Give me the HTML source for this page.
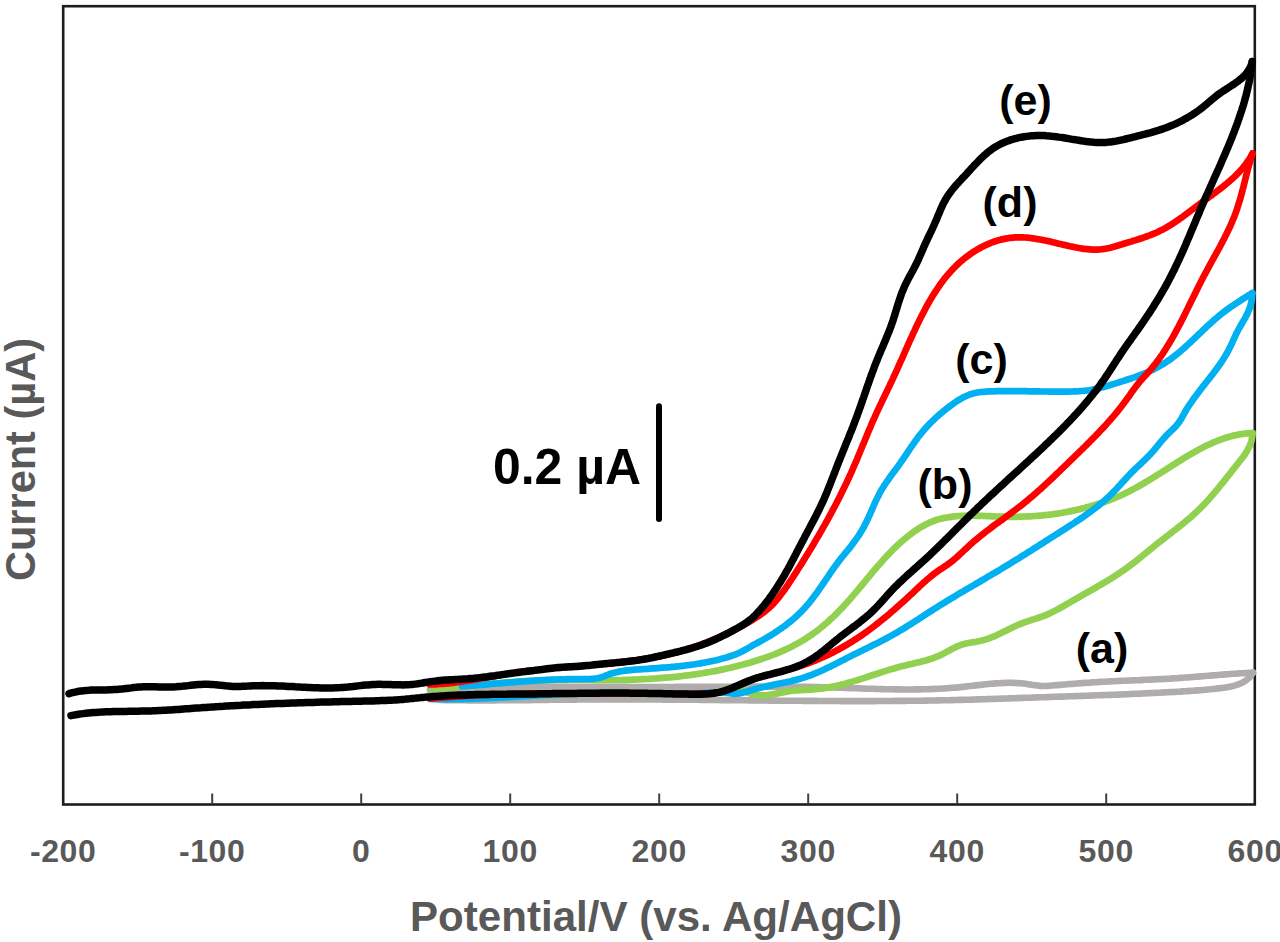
<!DOCTYPE html>
<html><head><meta charset="utf-8"><style>
html,body{margin:0;padding:0;background:#fff;}
body{width:1280px;height:942px;overflow:hidden;}
svg{display:block;}
text{font-family:"Liberation Sans",sans-serif;font-weight:bold;}
</style></head><body>
<svg width="1280" height="942" viewBox="0 0 1280 942">
<rect x="0" y="0" width="1280" height="942" fill="#fff"/>
<rect x="63.2" y="6.2" width="1191.6" height="798.3" fill="none" stroke="#1c1c1c" stroke-width="2.6"/>
<g>
<path d="M430.0,690.0 L432.5,689.9 L435.0,689.8 L437.5,689.7 L440.0,689.6 L442.6,689.6 L445.1,689.5 L447.6,689.4 L450.1,689.3 L452.6,689.2 L455.1,689.1 L457.6,689.0 L460.1,688.9 L462.7,688.8 L465.2,688.7 L467.7,688.6 L470.2,688.5 L472.7,688.4 L475.2,688.3 L477.7,688.2 L480.2,688.1 L482.8,688.0 L485.3,687.9 L487.8,687.9 L490.3,687.8 L492.8,687.7 L495.3,687.6 L497.8,687.5 L500.3,687.5 L502.9,687.4 L505.4,687.3 L507.9,687.3 L510.4,687.2 L512.9,687.1 L515.4,687.1 L517.9,687.0 L520.4,687.0 L523.0,687.0 L525.5,686.9 L528.0,686.9 L530.5,686.9 L533.0,686.8 L535.5,686.8 L538.0,686.8 L540.6,686.8 L543.1,686.8 L545.6,686.8 L548.1,686.7 L550.6,686.7 L553.1,686.7 L555.6,686.7 L558.1,686.7 L560.7,686.7 L563.2,686.7 L565.7,686.8 L568.2,686.8 L570.7,686.8 L573.2,686.8 L575.7,686.8 L578.3,686.8 L580.8,686.8 L583.3,686.8 L585.8,686.8 L588.3,686.8 L590.8,686.8 L593.3,686.8 L595.9,686.9 L598.4,686.9 L600.9,686.9 L603.4,686.9 L605.9,686.9 L608.4,686.9 L610.9,686.9 L613.5,686.9 L616.0,686.9 L618.5,686.9 L621.0,686.9 L623.5,686.9 L626.0,686.9 L628.5,687.0 L631.0,687.0 L633.6,687.0 L636.1,687.0 L638.6,687.0 L641.1,687.0 L643.6,687.0 L646.1,687.0 L648.6,687.0 L651.2,687.0 L653.7,687.0 L656.2,687.0 L658.7,687.0 L661.2,687.0 L663.7,687.0 L666.2,687.0 L668.8,687.0 L671.3,687.0 L673.8,687.0 L676.3,686.9 L678.8,686.9 L681.3,686.9 L683.8,686.9 L686.3,686.9 L688.9,686.9 L691.4,686.9 L693.9,686.9 L696.4,686.9 L698.9,686.9 L701.4,686.8 L703.9,686.8 L706.5,686.8 L709.0,686.8 L711.5,686.8 L714.0,686.8 L716.5,686.7 L719.0,686.7 L721.5,686.7 L724.0,686.7 L726.6,686.7 L729.1,686.7 L731.6,686.7 L734.1,686.6 L736.6,686.6 L739.1,686.6 L741.6,686.6 L744.2,686.6 L746.7,686.6 L749.2,686.6 L751.7,686.6 L754.2,686.6 L756.7,686.6 L759.2,686.6 L761.8,686.6 L764.3,686.6 L766.8,686.6 L769.3,686.6 L771.8,686.6 L774.3,686.6 L776.8,686.6 L779.4,686.6 L781.9,686.6 L784.4,686.6 L786.9,686.6 L789.4,686.7 L791.9,686.7 L794.4,686.7 L797.0,686.7 L799.5,686.8 L802.0,686.8 L804.5,686.8 L807.0,686.9 L809.5,686.9 L812.0,687.0 L814.6,687.0 L817.1,687.1 L819.6,687.1 L822.1,687.2 L824.6,687.3 L827.1,687.3 L829.6,687.4 L832.1,687.5 L834.6,687.5 L837.2,687.6 L839.7,687.7 L842.2,687.8 L844.7,687.9 L847.2,688.0 L849.7,688.1 L852.2,688.1 L854.7,688.2 L857.2,688.3 L859.7,688.4 L862.2,688.5 L864.7,688.6 L867.2,688.7 L869.8,688.7 L872.3,688.8 L874.8,688.9 L877.3,689.0 L879.8,689.0 L882.3,689.1 L884.8,689.2 L887.3,689.2 L889.8,689.3 L892.3,689.3 L894.8,689.4 L897.3,689.4 L899.9,689.4 L902.4,689.5 L904.9,689.5 L907.4,689.5 L909.9,689.5 L912.4,689.5 L914.9,689.4 L917.4,689.4 L920.0,689.4 L922.5,689.3 L925.0,689.3 L927.5,689.2 L930.0,689.1 L932.6,689.0 L935.1,688.9 L937.6,688.8 L940.1,688.7 L942.6,688.5 L945.2,688.4 L947.7,688.2 L950.2,688.0 L952.7,687.8 L955.3,687.6 L957.8,687.4 L960.3,687.1 L962.9,686.9 L965.4,686.6 L967.9,686.3 L970.5,686.0 L973.0,685.7 L975.5,685.4 L978.1,685.1 L980.6,684.9 L983.1,684.6 L985.7,684.3 L988.2,684.0 L990.7,683.8 L993.2,683.6 L995.8,683.4 L998.3,683.2 L1000.8,683.1 L1003.3,683.0 L1005.8,682.9 L1008.3,682.8 L1010.8,682.8 L1013.3,682.9 L1015.7,683.0 L1018.2,683.1 L1020.7,683.3 L1023.1,683.5 L1025.6,683.8 L1028.0,684.2 L1030.4,684.6 L1032.9,685.0 L1035.3,685.3 L1037.7,685.6 L1040.2,685.9 L1042.6,686.0 L1045.0,686.0 L1047.4,685.9 L1049.9,685.7 L1052.3,685.5 L1054.8,685.3 L1057.2,685.1 L1059.7,684.9 L1062.2,684.7 L1064.7,684.5 L1067.2,684.3 L1069.7,684.0 L1072.2,683.9 L1074.7,683.7 L1077.2,683.5 L1079.7,683.3 L1082.2,683.1 L1084.8,682.9 L1087.3,682.7 L1089.8,682.6 L1092.4,682.4 L1094.9,682.2 L1097.4,682.1 L1100.0,681.9 L1102.5,681.8 L1105.0,681.7 L1107.5,681.5 L1110.1,681.4 L1112.6,681.3 L1115.1,681.2 L1117.6,681.0 L1120.1,680.9 L1122.6,680.8 L1125.2,680.7 L1127.7,680.6 L1130.2,680.5 L1132.7,680.4 L1135.2,680.3 L1137.7,680.2 L1140.2,680.1 L1142.7,679.9 L1145.2,679.8 L1147.7,679.7 L1150.2,679.6 L1152.7,679.5 L1155.2,679.4 L1157.7,679.3 L1160.2,679.1 L1162.8,679.0 L1165.3,678.9 L1167.8,678.7 L1170.3,678.6 L1172.8,678.4 L1175.3,678.2 L1177.8,678.1 L1180.3,677.9 L1182.8,677.7 L1185.3,677.5 L1187.8,677.4 L1190.3,677.2 L1192.8,677.0 L1195.3,676.8 L1197.8,676.6 L1200.3,676.4 L1202.8,676.2 L1205.3,676.0 L1207.9,675.8 L1210.4,675.6 L1212.9,675.4 L1215.4,675.2 L1217.9,675.0 L1220.4,674.8 L1222.9,674.6 L1225.4,674.4 L1227.9,674.2 L1230.4,674.0 L1232.9,673.8 L1235.4,673.7 L1238.0,673.5 L1240.5,673.3 L1243.0,673.2 L1245.5,673.0 L1248.0,672.9 L1250.5,672.7 L1253.0,672.6" stroke="#B0ACAC" stroke-width="6.6" fill="none" stroke-linecap="round" stroke-linejoin="round"/>
<path d="M1253.0,672.6 L1251.6,674.7 L1250.1,676.7 L1248.5,678.4 L1246.6,679.9 L1244.7,681.3 L1242.6,682.5 L1240.4,683.5 L1238.2,684.4 L1235.8,685.2 L1233.4,685.9 L1230.9,686.5 L1228.4,687.0 L1225.8,687.4 L1223.2,687.8 L1220.6,688.1 L1218.0,688.4 L1215.4,688.7 L1212.9,689.0 L1210.3,689.3 L1207.7,689.5 L1205.2,689.8 L1202.7,690.0 L1200.1,690.2 L1197.6,690.4 L1195.1,690.6 L1192.6,690.8 L1190.1,690.9 L1187.6,691.1 L1185.1,691.3 L1182.6,691.4 L1180.1,691.6 L1177.6,691.7 L1175.1,691.9 L1172.6,692.0 L1170.1,692.1 L1167.6,692.3 L1165.2,692.4 L1162.7,692.5 L1160.2,692.7 L1157.7,692.8 L1155.2,692.9 L1152.7,693.0 L1150.2,693.1 L1147.7,693.3 L1145.2,693.4 L1142.7,693.5 L1140.2,693.6 L1137.7,693.7 L1135.2,693.8 L1132.7,693.9 L1130.2,694.0 L1127.7,694.2 L1125.2,694.3 L1122.7,694.4 L1120.2,694.5 L1117.7,694.6 L1115.2,694.7 L1112.6,694.8 L1110.1,694.9 L1107.6,695.0 L1105.1,695.0 L1102.6,695.1 L1100.1,695.2 L1097.6,695.3 L1095.1,695.4 L1092.6,695.5 L1090.1,695.6 L1087.6,695.7 L1085.0,695.8 L1082.5,695.9 L1080.0,696.0 L1077.5,696.0 L1075.0,696.1 L1072.5,696.2 L1070.0,696.3 L1067.5,696.4 L1064.9,696.5 L1062.4,696.6 L1059.9,696.6 L1057.4,696.7 L1054.9,696.8 L1052.4,696.9 L1049.9,697.0 L1047.4,697.1 L1044.8,697.2 L1042.3,697.2 L1039.8,697.3 L1037.3,697.4 L1034.8,697.5 L1032.3,697.6 L1029.8,697.7 L1027.3,697.8 L1024.8,697.8 L1022.3,697.9 L1019.7,698.0 L1017.2,698.1 L1014.7,698.2 L1012.2,698.3 L1009.7,698.4 L1007.2,698.5 L1004.7,698.5 L1002.2,698.6 L999.7,698.7 L997.2,698.8 L994.7,698.9 L992.2,699.0 L989.6,699.0 L987.1,699.1 L984.6,699.2 L982.1,699.3 L979.6,699.4 L977.1,699.4 L974.6,699.5 L972.1,699.6 L969.6,699.7 L967.1,699.7 L964.6,699.8 L962.1,699.9 L959.6,699.9 L957.1,700.0 L954.5,700.0 L952.0,700.1 L949.5,700.2 L947.0,700.2 L944.5,700.3 L942.0,700.3 L939.5,700.4 L937.0,700.4 L934.5,700.5 L932.0,700.5 L929.5,700.5 L927.0,700.6 L924.5,700.6 L921.9,700.7 L919.4,700.7 L916.9,700.7 L914.4,700.8 L911.9,700.8 L909.4,700.8 L906.9,700.8 L904.4,700.9 L901.9,700.9 L899.4,700.9 L896.9,700.9 L894.3,700.9 L891.8,701.0 L889.3,701.0 L886.8,701.0 L884.3,701.0 L881.8,701.0 L879.3,701.0 L876.8,701.0 L874.3,701.1 L871.8,701.1 L869.3,701.1 L866.7,701.1 L864.2,701.1 L861.7,701.1 L859.2,701.1 L856.7,701.1 L854.2,701.1 L851.7,701.1 L849.2,701.1 L846.7,701.1 L844.2,701.1 L841.6,701.1 L839.1,701.0 L836.6,701.0 L834.1,701.0 L831.6,701.0 L829.1,701.0 L826.6,701.0 L824.1,701.0 L821.6,701.0 L819.0,701.0 L816.5,700.9 L814.0,700.9 L811.5,700.9 L809.0,700.9 L806.5,700.9 L804.0,700.9 L801.5,700.8 L799.0,700.8 L796.5,700.8 L793.9,700.8 L791.4,700.8 L788.9,700.7 L786.4,700.7 L783.9,700.7 L781.4,700.7 L778.9,700.7 L776.4,700.6 L773.9,700.6 L771.3,700.6 L768.8,700.6 L766.3,700.5 L763.8,700.5 L761.3,700.5 L758.8,700.5 L756.3,700.4 L753.8,700.4 L751.3,700.4 L748.7,700.4 L746.2,700.3 L743.7,700.3 L741.2,700.3 L738.7,700.3 L736.2,700.2 L733.7,700.2 L731.2,700.2 L728.7,700.1 L726.1,700.1 L723.6,700.1 L721.1,700.1 L718.6,700.0 L716.1,700.0 L713.6,700.0 L711.1,700.0 L708.6,699.9 L706.1,699.9 L703.5,699.9 L701.0,699.9 L698.5,699.8 L696.0,699.8 L693.5,699.8 L691.0,699.8 L688.5,699.8 L686.0,699.7 L683.5,699.7 L681.0,699.7 L678.4,699.7 L675.9,699.7 L673.4,699.6 L670.9,699.6 L668.4,699.6 L665.9,699.6 L663.4,699.6 L660.9,699.5 L658.4,699.5 L655.8,699.5 L653.3,699.5 L650.8,699.5 L648.3,699.5 L645.8,699.5 L643.3,699.5 L640.8,699.4 L638.3,699.4 L635.8,699.4 L633.3,699.4 L630.7,699.4 L628.2,699.4 L625.7,699.4 L623.2,699.4 L620.7,699.4 L618.2,699.4 L615.7,699.4 L613.2,699.4 L610.7,699.4 L608.2,699.4 L605.6,699.4 L603.1,699.4 L600.6,699.4 L598.1,699.4 L595.6,699.4 L593.1,699.5 L590.6,699.5 L588.1,699.5 L585.6,699.5 L583.1,699.5 L580.5,699.5 L578.0,699.5 L575.5,699.6 L573.0,699.6 L570.5,699.6 L568.0,699.6 L565.5,699.7 L563.0,699.7 L560.5,699.7 L558.0,699.7 L555.5,699.8 L552.9,699.8 L550.4,699.8 L547.9,699.9 L545.4,699.9 L542.9,699.9 L540.4,699.9 L537.9,700.0 L535.4,700.0 L532.9,700.0 L530.4,700.1 L527.9,700.1 L525.3,700.1 L522.8,700.1 L520.3,700.2 L517.8,700.2 L515.3,700.2 L512.8,700.2 L510.3,700.3 L507.8,700.3 L505.3,700.3 L502.8,700.3 L500.3,700.3 L497.7,700.3 L495.2,700.4 L492.7,700.4 L490.2,700.4 L487.7,700.4 L485.2,700.4 L482.7,700.4 L480.2,700.4 L477.7,700.4 L475.2,700.4 L472.6,700.4 L470.1,700.4 L467.6,700.4 L465.1,700.3 L462.6,700.3 L460.1,700.3 L457.6,700.3 L455.1,700.2 L452.6,700.2 L450.0,700.2 L447.5,700.1 L445.0,700.1 L442.5,700.0 L440.0,700.0" stroke="#B0ACAC" stroke-width="6.6" fill="none" stroke-linecap="round" stroke-linejoin="round"/>
<path d="M432.0,689.0 L434.5,688.8 L437.0,688.6 L439.5,688.4 L442.0,688.3 L444.5,688.0 L447.0,687.8 L449.5,687.6 L452.0,687.4 L454.5,687.2 L457.0,687.0 L459.5,686.7 L462.0,686.5 L464.5,686.3 L467.0,686.0 L469.5,685.8 L472.0,685.6 L474.5,685.3 L477.0,685.1 L479.5,684.9 L482.0,684.6 L484.5,684.4 L487.0,684.2 L489.5,683.9 L492.0,683.7 L494.5,683.5 L497.0,683.3 L499.6,683.1 L502.1,682.8 L504.6,682.6 L507.1,682.4 L509.6,682.2 L512.1,682.1 L514.6,681.9 L517.1,681.7 L519.6,681.5 L522.1,681.4 L524.6,681.2 L527.2,681.1 L529.7,680.9 L532.2,680.8 L534.7,680.7 L537.2,680.6 L539.7,680.5 L542.2,680.4 L544.7,680.3 L547.3,680.2 L549.8,680.1 L552.3,680.1 L554.8,680.0 L557.3,679.9 L559.8,679.9 L562.3,679.8 L564.8,679.8 L567.3,679.8 L569.8,679.7 L572.3,679.7 L574.9,679.7 L577.4,679.7 L579.9,679.7 L582.4,679.7 L584.9,679.7 L587.4,679.7 L589.9,679.7 L592.4,679.8 L594.9,679.8 L597.3,679.8 L599.8,679.9 L602.3,679.9 L604.8,679.9 L607.3,680.0 L609.8,680.0 L612.3,680.0 L614.8,680.0 L617.2,680.0 L619.7,680.0 L622.2,680.0 L624.7,679.9 L627.2,679.8 L629.7,679.8 L632.2,679.7 L634.7,679.6 L637.2,679.5 L639.7,679.3 L642.2,679.2 L644.7,679.1 L647.2,679.0 L649.7,678.8 L652.2,678.7 L654.7,678.5 L657.2,678.3 L659.8,678.1 L662.3,677.9 L664.8,677.7 L667.3,677.5 L669.8,677.3 L672.3,677.1 L674.8,676.8 L677.4,676.6 L679.9,676.3 L682.4,676.0 L684.9,675.7 L687.4,675.4 L689.8,675.1 L692.3,674.7 L694.8,674.4 L697.3,674.0 L699.8,673.6 L702.2,673.3 L704.7,672.8 L707.2,672.4 L709.6,672.0 L712.1,671.5 L714.6,671.1 L717.0,670.6 L719.5,670.1 L721.9,669.6 L724.4,669.1 L726.8,668.5 L729.3,668.0 L731.7,667.4 L734.2,666.8 L736.6,666.2 L739.0,665.6 L741.5,665.0 L743.9,664.3 L746.3,663.6 L748.8,663.0 L751.2,662.3 L753.6,661.5 L756.0,660.8 L758.4,660.0 L760.8,659.2 L763.2,658.4 L765.6,657.6 L768.0,656.8 L770.4,655.9 L772.7,655.0 L775.1,654.1 L777.4,653.1 L779.7,652.1 L782.0,651.1 L784.3,650.1 L786.6,649.1 L788.9,648.0 L791.1,646.9 L793.3,645.7 L795.5,644.6 L797.7,643.4 L799.9,642.1 L802.1,640.9 L804.2,639.6 L806.3,638.2 L808.4,636.9 L810.5,635.5 L812.5,634.0 L814.6,632.6 L816.6,631.1 L818.6,629.6 L820.5,628.0 L822.5,626.4 L824.4,624.8 L826.3,623.2 L828.2,621.5 L830.0,619.8 L831.9,618.1 L833.7,616.4 L835.5,614.6 L837.3,612.8 L839.0,611.0 L840.8,609.2 L842.5,607.4 L844.2,605.5 L845.9,603.7 L847.6,601.8 L849.3,599.9 L851.0,598.0 L852.6,596.1 L854.2,594.2 L855.9,592.3 L857.5,590.4 L859.1,588.4 L860.7,586.5 L862.4,584.5 L864.0,582.6 L865.6,580.7 L867.2,578.7 L868.8,576.8 L870.4,574.8 L872.0,572.9 L873.6,571.0 L875.3,569.1 L876.9,567.1 L878.6,565.2 L880.2,563.4 L881.9,561.5 L883.5,559.6 L885.2,557.8 L886.9,555.9 L888.7,554.1 L890.4,552.3 L892.1,550.5 L893.9,548.7 L895.7,547.0 L897.5,545.3 L899.3,543.6 L901.2,541.9 L903.1,540.3 L905.0,538.7 L906.9,537.1 L908.9,535.5 L910.9,534.0 L912.9,532.5 L914.9,531.0 L917.0,529.6 L919.1,528.2 L921.3,526.9 L923.5,525.7 L925.7,524.5 L927.9,523.4 L930.2,522.3 L932.5,521.4 L934.9,520.5 L937.2,519.7 L939.6,519.1 L942.1,518.4 L944.5,517.9 L947.0,517.5 L949.5,517.1 L952.0,516.7 L954.5,516.4 L957.0,516.2 L959.5,516.0 L962.0,515.9 L964.5,515.8 L967.0,515.7 L969.5,515.7 L972.1,515.7 L974.6,515.7 L977.1,515.8 L979.6,515.8 L982.2,515.9 L984.7,516.0 L987.2,516.1 L989.7,516.2 L992.3,516.3 L994.8,516.4 L997.3,516.5 L999.8,516.6 L1002.4,516.7 L1004.9,516.7 L1007.4,516.8 L1009.9,516.8 L1012.4,516.8 L1015.0,516.8 L1017.5,516.8 L1020.0,516.7 L1022.5,516.6 L1025.0,516.5 L1027.5,516.4 L1030.0,516.3 L1032.5,516.2 L1035.0,516.0 L1037.5,515.8 L1040.0,515.6 L1042.5,515.4 L1045.0,515.1 L1047.4,514.9 L1049.9,514.6 L1052.4,514.3 L1054.9,513.9 L1057.3,513.6 L1059.8,513.2 L1062.3,512.8 L1064.7,512.3 L1067.2,511.9 L1069.7,511.4 L1072.1,510.9 L1074.6,510.4 L1077.0,509.8 L1079.5,509.2 L1081.9,508.6 L1084.3,508.0 L1086.8,507.3 L1089.2,506.6 L1091.6,505.9 L1094.1,505.2 L1096.5,504.5 L1098.9,503.7 L1101.3,503.0 L1103.7,502.2 L1106.0,501.4 L1108.4,500.5 L1110.8,499.6 L1113.1,498.7 L1115.4,497.8 L1117.7,496.8 L1120.0,495.8 L1122.2,494.7 L1124.5,493.7 L1126.7,492.6 L1129.0,491.5 L1131.2,490.3 L1133.4,489.1 L1135.6,487.9 L1137.8,486.7 L1139.9,485.5 L1142.1,484.3 L1144.3,483.0 L1146.4,481.7 L1148.6,480.4 L1150.7,479.1 L1152.8,477.8 L1155.0,476.5 L1157.1,475.1 L1159.2,473.8 L1161.3,472.5 L1163.5,471.1 L1165.6,469.8 L1167.7,468.4 L1169.8,467.1 L1172.0,465.7 L1174.1,464.4 L1176.2,463.0 L1178.4,461.7 L1180.5,460.4 L1182.6,459.0 L1184.8,457.7 L1186.9,456.4 L1189.1,455.1 L1191.3,453.8 L1193.5,452.6 L1195.6,451.4 L1197.8,450.1 L1200.0,448.9 L1202.3,447.8 L1204.5,446.6 L1206.7,445.5 L1209.0,444.5 L1211.3,443.4 L1213.5,442.4 L1215.8,441.5 L1218.1,440.5 L1220.5,439.6 L1222.8,438.8 L1225.2,438.0 L1227.6,437.3 L1230.0,436.6 L1232.4,435.9 L1234.8,435.4 L1237.3,434.8 L1239.8,434.4 L1242.3,434.0 L1244.8,433.6 L1247.3,433.3 L1249.9,433.1 L1252.5,433.0" stroke="#92D050" stroke-width="6.7" fill="none" stroke-linecap="round" stroke-linejoin="round"/>
<path d="M1252.5,433.0 L1252.4,435.7 L1252.0,438.2 L1251.5,440.7 L1250.7,443.1 L1249.9,445.4 L1248.8,447.6 L1247.7,449.8 L1246.4,451.9 L1245.1,454.0 L1243.7,456.0 L1242.2,458.0 L1240.7,460.0 L1239.1,462.0 L1237.5,464.0 L1235.9,465.9 L1234.4,467.9 L1232.8,469.9 L1231.2,471.9 L1229.7,473.9 L1228.1,475.8 L1226.6,477.8 L1225.0,479.8 L1223.4,481.8 L1221.9,483.7 L1220.3,485.7 L1218.7,487.6 L1217.1,489.6 L1215.5,491.5 L1213.9,493.4 L1212.3,495.3 L1210.6,497.2 L1209.0,499.1 L1207.3,501.0 L1205.6,502.8 L1203.9,504.6 L1202.2,506.4 L1200.4,508.2 L1198.6,509.9 L1196.8,511.6 L1195.0,513.3 L1193.1,515.0 L1191.3,516.7 L1189.4,518.3 L1187.4,519.9 L1185.5,521.5 L1183.6,523.1 L1181.6,524.7 L1179.7,526.3 L1177.7,527.8 L1175.7,529.4 L1173.7,530.9 L1171.7,532.5 L1169.7,534.0 L1167.7,535.6 L1165.7,537.1 L1163.8,538.7 L1161.8,540.2 L1159.8,541.8 L1157.8,543.3 L1155.9,544.9 L1153.9,546.5 L1152.0,548.1 L1150.0,549.7 L1148.1,551.2 L1146.1,552.8 L1144.2,554.4 L1142.2,556.0 L1140.3,557.6 L1138.3,559.1 L1136.4,560.7 L1134.4,562.2 L1132.4,563.7 L1130.4,565.2 L1128.4,566.7 L1126.4,568.2 L1124.4,569.7 L1122.3,571.1 L1120.3,572.5 L1118.2,573.9 L1116.1,575.3 L1114.0,576.6 L1111.9,578.0 L1109.7,579.3 L1107.6,580.6 L1105.5,581.9 L1103.3,583.2 L1101.1,584.5 L1099.0,585.7 L1096.8,587.0 L1094.6,588.3 L1092.4,589.5 L1090.2,590.8 L1088.0,592.0 L1085.8,593.2 L1083.6,594.5 L1081.5,595.7 L1079.3,597.0 L1077.1,598.2 L1074.9,599.5 L1072.7,600.7 L1070.6,602.0 L1068.4,603.3 L1066.2,604.5 L1064.0,605.8 L1061.9,607.0 L1059.7,608.2 L1057.5,609.4 L1055.3,610.6 L1053.1,611.7 L1050.8,612.8 L1048.6,613.9 L1046.3,614.9 L1044.0,615.8 L1041.6,616.7 L1039.3,617.5 L1036.9,618.3 L1034.5,619.1 L1032.1,619.8 L1029.7,620.6 L1027.3,621.4 L1024.9,622.2 L1022.6,623.1 L1020.2,624.0 L1017.9,625.0 L1015.6,626.0 L1013.3,627.1 L1011.0,628.2 L1008.8,629.3 L1006.5,630.4 L1004.3,631.5 L1002.0,632.6 L999.7,633.7 L997.5,634.8 L995.2,635.9 L992.9,636.8 L990.6,637.8 L988.2,638.6 L985.9,639.4 L983.5,640.1 L981.1,640.7 L978.6,641.2 L976.1,641.7 L973.6,642.1 L971.2,642.5 L968.7,643.0 L966.2,643.5 L963.8,644.1 L961.4,644.8 L959.1,645.7 L956.8,646.6 L954.6,647.7 L952.3,648.8 L950.1,650.0 L947.9,651.2 L945.7,652.4 L943.5,653.6 L941.3,654.7 L939.0,655.8 L936.7,656.7 L934.4,657.6 L932.0,658.5 L929.7,659.2 L927.3,660.0 L924.9,660.7 L922.5,661.3 L920.0,661.9 L917.6,662.5 L915.1,663.1 L912.7,663.7 L910.2,664.2 L907.8,664.8 L905.3,665.4 L902.9,666.0 L900.4,666.6 L898.0,667.3 L895.6,668.0 L893.2,668.7 L890.8,669.4 L888.3,670.1 L885.9,670.9 L883.5,671.6 L881.1,672.4 L878.7,673.2 L876.3,674.0 L874.0,674.7 L871.6,675.5 L869.2,676.3 L866.8,677.1 L864.4,677.9 L862.0,678.6 L859.6,679.4 L857.2,680.2 L854.8,680.9 L852.4,681.6 L850.0,682.3 L847.6,683.0 L845.2,683.7 L842.8,684.3 L840.4,684.9 L837.9,685.5 L835.5,686.1 L833.1,686.6 L830.6,687.1 L828.2,687.6 L825.7,688.0 L823.2,688.4 L820.8,688.7 L818.3,689.0 L815.8,689.2 L813.3,689.4 L810.8,689.6 L808.2,689.7 L805.7,689.9 L803.2,690.0 L800.6,690.1 L798.1,690.3 L795.5,690.5 L792.9,690.7 L790.4,691.0 L787.8,691.4 L785.2,691.9 L782.7,692.4 L780.1,692.9 L777.6,693.4 L775.0,693.9 L772.5,694.3 L770.0,694.7 L767.5,695.1 L765.0,695.3 L762.6,695.4 L760.2,695.4 L757.8,695.3 L755.4,695.0 L753.1,694.4 L750.8,693.7 L748.5,692.8 L746.2,691.9 L744.0,690.9 L741.7,689.9 L739.5,689.1 L737.3,688.5 L735.0,688.2 L732.7,688.1 L730.4,688.4 L728.1,688.8 L725.7,689.4 L723.4,690.1 L721.0,690.9 L718.5,691.6 L716.1,692.2 L713.6,692.7 L711.1,693.1 L708.6,693.4 L706.1,693.6 L703.6,693.7 L701.1,693.8 L698.5,693.9 L696.0,694.0 L693.5,694.0 L691.0,694.0 L688.5,694.0 L686.0,694.0 L683.5,693.9 L680.9,693.9 L678.4,693.8 L675.9,693.8 L673.4,693.7 L670.9,693.6 L668.4,693.6 L665.9,693.5 L663.4,693.4 L660.8,693.4 L658.3,693.3 L655.8,693.3 L653.3,693.3 L650.8,693.2 L648.3,693.2 L645.8,693.2 L643.3,693.1 L640.8,693.1 L638.2,693.1 L635.7,693.1 L633.2,693.1 L630.7,693.1 L628.2,693.1 L625.7,693.1 L623.2,693.1 L620.7,693.1 L618.2,693.1 L615.7,693.2 L613.1,693.2 L610.6,693.2 L608.1,693.2 L605.6,693.3 L603.1,693.3 L600.6,693.3 L598.1,693.4 L595.6,693.4 L593.1,693.5 L590.6,693.5 L588.0,693.6 L585.5,693.6 L583.0,693.7 L580.5,693.8 L578.0,693.8 L575.5,693.9 L573.0,693.9 L570.5,694.0 L568.0,694.1 L565.5,694.2 L563.0,694.2 L560.4,694.3 L557.9,694.4 L555.4,694.4 L552.9,694.5 L550.4,694.6 L547.9,694.7 L545.4,694.8 L542.9,694.8 L540.4,694.9 L537.9,695.0 L535.4,695.1 L532.8,695.2 L530.3,695.3 L527.8,695.4 L525.3,695.4 L522.8,695.5 L520.3,695.6 L517.8,695.7 L515.3,695.8 L512.8,695.9 L510.3,696.0 L507.8,696.1 L505.2,696.1 L502.7,696.2 L500.2,696.3 L497.7,696.4 L495.2,696.5 L492.7,696.6 L490.2,696.6 L487.7,696.7 L485.2,696.8 L482.7,696.9 L480.2,697.0 L477.6,697.0 L475.1,697.1 L472.6,697.2 L470.1,697.3 L467.6,697.3 L465.1,697.4 L462.6,697.5 L460.1,697.5 L457.6,697.6 L455.1,697.7 L452.6,697.7 L450.0,697.8 L447.5,697.8 L445.0,697.9 L442.5,698.0 L440.0,698.0" stroke="#92D050" stroke-width="6.7" fill="none" stroke-linecap="round" stroke-linejoin="round"/>
<path d="M462.0,686.3 L464.5,686.1 L467.0,685.9 L469.5,685.7 L472.0,685.6 L474.5,685.4 L477.0,685.2 L479.5,685.0 L482.0,684.8 L484.5,684.6 L487.0,684.3 L489.5,684.1 L492.0,683.9 L494.5,683.7 L497.0,683.5 L499.5,683.3 L502.0,683.1 L504.5,682.9 L507.0,682.7 L509.5,682.5 L512.0,682.3 L514.5,682.1 L517.0,681.9 L519.5,681.7 L522.0,681.5 L524.5,681.3 L527.0,681.2 L529.5,681.0 L532.0,680.8 L534.5,680.6 L537.1,680.5 L539.6,680.3 L542.1,680.2 L544.6,680.1 L547.1,679.9 L549.6,679.8 L552.1,679.7 L554.6,679.6 L557.1,679.5 L559.7,679.4 L562.2,679.3 L564.7,679.3 L567.2,679.2 L569.8,679.2 L572.3,679.2 L574.8,679.2 L577.3,679.2 L579.9,679.2 L582.4,679.2 L584.9,679.2 L587.4,679.1 L589.9,679.0 L592.3,678.8 L594.7,678.6 L597.1,678.2 L599.5,677.7 L601.8,677.1 L604.0,676.3 L606.2,675.4 L608.5,674.5 L610.7,673.7 L613.0,673.0 L615.4,672.4 L617.7,671.9 L620.1,671.4 L622.6,671.0 L625.0,670.6 L627.5,670.3 L630.0,670.1 L632.5,669.9 L635.0,669.7 L637.5,669.5 L640.1,669.3 L642.6,669.1 L645.1,669.0 L647.7,668.8 L650.2,668.6 L652.7,668.4 L655.2,668.3 L657.7,668.1 L660.3,667.9 L662.8,667.7 L665.3,667.5 L667.8,667.3 L670.3,667.1 L672.8,666.8 L675.3,666.6 L677.8,666.3 L680.3,666.1 L682.8,665.8 L685.3,665.5 L687.8,665.2 L690.3,664.9 L692.8,664.5 L695.2,664.2 L697.7,663.8 L700.2,663.4 L702.7,662.9 L705.1,662.5 L707.6,662.0 L710.0,661.5 L712.5,661.0 L714.9,660.5 L717.4,659.9 L719.8,659.3 L722.2,658.6 L724.7,658.0 L727.1,657.3 L729.5,656.5 L731.9,655.7 L734.2,654.9 L736.6,654.0 L738.8,653.0 L741.1,651.9 L743.3,650.7 L745.5,649.5 L747.6,648.3 L749.8,647.1 L751.9,645.8 L754.1,644.6 L756.3,643.5 L758.5,642.3 L760.7,641.1 L762.9,639.9 L765.0,638.7 L767.2,637.4 L769.4,636.1 L771.5,634.8 L773.6,633.5 L775.7,632.1 L777.8,630.7 L779.9,629.3 L782.0,627.9 L784.0,626.4 L786.1,624.9 L788.0,623.3 L790.0,621.8 L792.0,620.2 L793.9,618.5 L795.8,616.9 L797.6,615.2 L799.4,613.4 L801.2,611.7 L802.9,609.8 L804.7,608.0 L806.3,606.1 L808.0,604.2 L809.6,602.3 L811.1,600.3 L812.7,598.4 L814.2,596.3 L815.7,594.3 L817.1,592.3 L818.6,590.2 L820.0,588.2 L821.5,586.1 L822.9,584.0 L824.3,582.0 L825.7,579.9 L827.1,577.8 L828.5,575.8 L829.9,573.7 L831.3,571.7 L832.7,569.7 L834.1,567.6 L835.5,565.7 L837.0,563.7 L838.4,561.8 L839.9,559.8 L841.4,557.9 L842.9,556.1 L844.5,554.2 L846.0,552.3 L847.6,550.4 L849.2,548.5 L850.7,546.5 L852.2,544.5 L853.7,542.5 L855.2,540.5 L856.7,538.4 L858.1,536.4 L859.5,534.3 L860.8,532.1 L862.1,530.0 L863.4,527.8 L864.6,525.6 L865.7,523.3 L866.8,521.1 L867.9,518.8 L868.9,516.5 L870.0,514.2 L871.0,511.9 L872.0,509.6 L873.0,507.3 L874.0,505.0 L875.0,502.7 L876.1,500.4 L877.2,498.1 L878.3,495.9 L879.4,493.7 L880.6,491.5 L881.9,489.3 L883.2,487.2 L884.5,485.1 L885.9,483.0 L887.3,480.9 L888.8,478.9 L890.2,476.8 L891.7,474.8 L893.2,472.8 L894.7,470.8 L896.2,468.7 L897.7,466.7 L899.2,464.6 L900.6,462.6 L902.1,460.5 L903.5,458.5 L904.9,456.4 L906.3,454.3 L907.7,452.2 L909.1,450.1 L910.5,448.0 L911.9,445.9 L913.4,443.9 L914.8,441.8 L916.3,439.8 L917.7,437.8 L919.2,435.8 L920.8,433.8 L922.4,431.9 L924.0,430.0 L925.6,428.1 L927.3,426.3 L929.0,424.4 L930.8,422.6 L932.6,420.9 L934.4,419.1 L936.2,417.4 L938.1,415.8 L940.0,414.1 L941.9,412.5 L943.8,410.9 L945.8,409.3 L947.8,407.7 L949.8,406.2 L951.8,404.7 L953.9,403.2 L956.0,401.8 L958.1,400.4 L960.2,399.1 L962.4,397.8 L964.6,396.7 L966.9,395.7 L969.2,394.7 L971.5,393.9 L973.9,393.3 L976.3,392.7 L978.8,392.3 L981.2,392.0 L983.7,391.8 L986.3,391.6 L988.8,391.4 L991.3,391.4 L993.9,391.3 L996.4,391.2 L999.0,391.2 L1001.5,391.2 L1004.0,391.1 L1006.5,391.1 L1009.1,391.1 L1011.6,391.1 L1014.1,391.1 L1016.6,391.1 L1019.1,391.2 L1021.6,391.2 L1024.1,391.2 L1026.6,391.2 L1029.1,391.3 L1031.6,391.3 L1034.1,391.3 L1036.6,391.4 L1039.1,391.4 L1041.6,391.5 L1044.1,391.5 L1046.6,391.5 L1049.2,391.6 L1051.7,391.6 L1054.2,391.6 L1056.7,391.6 L1059.2,391.6 L1061.7,391.6 L1064.2,391.6 L1066.7,391.6 L1069.2,391.6 L1071.7,391.5 L1074.2,391.4 L1076.7,391.3 L1079.2,391.2 L1081.7,391.0 L1084.2,390.8 L1086.7,390.5 L1089.1,390.2 L1091.6,389.8 L1094.0,389.3 L1096.5,388.8 L1098.9,388.2 L1101.3,387.6 L1103.7,387.0 L1106.2,386.3 L1108.6,385.6 L1111.0,384.8 L1113.4,384.1 L1115.8,383.4 L1118.2,382.6 L1120.6,381.8 L1123.0,381.1 L1125.4,380.3 L1127.8,379.5 L1130.2,378.7 L1132.6,377.9 L1134.9,377.1 L1137.3,376.2 L1139.6,375.3 L1142.0,374.4 L1144.3,373.5 L1146.6,372.5 L1148.9,371.5 L1151.1,370.5 L1153.4,369.4 L1155.6,368.3 L1157.8,367.1 L1160.0,365.9 L1162.1,364.7 L1164.2,363.4 L1166.3,362.0 L1168.3,360.6 L1170.4,359.2 L1172.4,357.7 L1174.3,356.2 L1176.3,354.6 L1178.2,353.1 L1180.2,351.5 L1182.1,349.8 L1184.0,348.2 L1185.8,346.5 L1187.7,344.8 L1189.6,343.1 L1191.4,341.3 L1193.3,339.6 L1195.1,337.8 L1196.9,336.1 L1198.8,334.3 L1200.6,332.6 L1202.4,330.8 L1204.3,329.1 L1206.1,327.3 L1208.0,325.6 L1209.8,323.9 L1211.7,322.2 L1213.6,320.5 L1215.5,318.8 L1217.4,317.2 L1219.3,315.6 L1221.3,314.0 L1223.2,312.5 L1225.2,311.0 L1227.2,309.5 L1229.3,308.0 L1231.3,306.6 L1233.4,305.2 L1235.4,303.8 L1237.5,302.5 L1239.6,301.1 L1241.7,299.7 L1243.8,298.4 L1245.9,297.0 L1248.0,295.7 L1250.2,294.4 L1252.3,293.0" stroke="#00B0F0" stroke-width="6.7" fill="none" stroke-linecap="round" stroke-linejoin="round"/>
<path d="M1252.3,293.0 L1252.2,295.5 L1252.0,298.0 L1251.6,300.5 L1251.1,303.0 L1250.5,305.4 L1249.8,307.8 L1248.9,310.2 L1247.9,312.5 L1246.8,314.8 L1245.7,317.0 L1244.5,319.2 L1243.2,321.3 L1241.9,323.5 L1240.6,325.7 L1239.4,327.8 L1238.2,330.0 L1237.0,332.3 L1235.9,334.5 L1234.9,336.8 L1233.8,339.1 L1232.8,341.3 L1231.8,343.6 L1230.7,345.9 L1229.6,348.1 L1228.5,350.3 L1227.3,352.5 L1226.0,354.7 L1224.7,356.9 L1223.4,359.0 L1222.1,361.1 L1220.7,363.2 L1219.2,365.2 L1217.8,367.3 L1216.3,369.3 L1214.8,371.3 L1213.3,373.3 L1211.7,375.3 L1210.2,377.3 L1208.6,379.3 L1207.1,381.3 L1205.5,383.2 L1204.0,385.2 L1202.4,387.2 L1200.9,389.2 L1199.3,391.2 L1197.8,393.2 L1196.3,395.2 L1194.8,397.2 L1193.3,399.2 L1191.9,401.3 L1190.5,403.3 L1189.1,405.4 L1187.7,407.5 L1186.4,409.6 L1185.2,411.8 L1183.9,414.0 L1182.7,416.2 L1181.5,418.4 L1180.2,420.5 L1178.8,422.6 L1177.3,424.5 L1175.7,426.4 L1174.0,428.1 L1172.2,429.9 L1170.4,431.6 L1168.6,433.3 L1166.8,435.1 L1165.1,436.9 L1163.4,438.8 L1161.8,440.7 L1160.2,442.6 L1158.6,444.6 L1157.0,446.5 L1155.4,448.5 L1153.8,450.4 L1152.1,452.3 L1150.4,454.2 L1148.7,456.0 L1146.9,457.7 L1145.2,459.5 L1143.4,461.2 L1141.6,463.0 L1139.7,464.7 L1137.9,466.4 L1136.1,468.1 L1134.3,469.8 L1132.5,471.6 L1130.7,473.4 L1129.0,475.2 L1127.3,477.0 L1125.6,478.9 L1123.9,480.7 L1122.2,482.6 L1120.5,484.5 L1118.8,486.3 L1117.1,488.2 L1115.4,490.0 L1113.6,491.8 L1111.9,493.6 L1110.1,495.4 L1108.3,497.1 L1106.4,498.8 L1104.6,500.4 L1102.7,502.1 L1100.8,503.7 L1098.8,505.3 L1096.9,506.8 L1094.9,508.4 L1092.9,509.9 L1090.9,511.4 L1088.9,512.8 L1086.9,514.3 L1084.8,515.8 L1082.8,517.2 L1080.7,518.6 L1078.6,520.0 L1076.5,521.4 L1074.4,522.8 L1072.3,524.2 L1070.2,525.5 L1068.1,526.9 L1066.0,528.2 L1063.9,529.6 L1061.8,530.9 L1059.7,532.3 L1057.5,533.6 L1055.4,535.0 L1053.3,536.3 L1051.2,537.7 L1049.1,539.0 L1047.0,540.4 L1044.9,541.7 L1042.7,543.1 L1040.6,544.4 L1038.5,545.8 L1036.4,547.1 L1034.3,548.4 L1032.2,549.8 L1030.1,551.1 L1027.9,552.4 L1025.8,553.8 L1023.7,555.1 L1021.6,556.4 L1019.5,557.8 L1017.3,559.1 L1015.2,560.4 L1013.1,561.7 L1011.0,563.0 L1008.8,564.3 L1006.7,565.6 L1004.5,566.9 L1002.4,568.2 L1000.3,569.5 L998.1,570.8 L996.0,572.1 L993.8,573.4 L991.6,574.7 L989.5,575.9 L987.3,577.2 L985.2,578.5 L983.0,579.7 L980.8,581.0 L978.7,582.3 L976.5,583.5 L974.3,584.8 L972.1,586.1 L970.0,587.3 L967.8,588.6 L965.6,589.9 L963.5,591.2 L961.3,592.4 L959.1,593.7 L957.0,595.0 L954.8,596.3 L952.7,597.6 L950.5,598.9 L948.4,600.2 L946.2,601.5 L944.1,602.8 L942.0,604.1 L939.8,605.4 L937.7,606.8 L935.6,608.1 L933.5,609.4 L931.3,610.8 L929.2,612.1 L927.1,613.5 L925.0,614.9 L922.9,616.2 L920.8,617.6 L918.7,619.0 L916.6,620.3 L914.5,621.7 L912.4,623.0 L910.3,624.4 L908.2,625.7 L906.0,627.0 L903.9,628.3 L901.8,629.6 L899.6,630.9 L897.5,632.2 L895.3,633.4 L893.1,634.7 L890.9,635.9 L888.7,637.1 L886.5,638.3 L884.3,639.5 L882.1,640.6 L879.9,641.8 L877.6,642.9 L875.4,644.0 L873.1,645.1 L870.9,646.2 L868.6,647.4 L866.4,648.5 L864.1,649.6 L861.8,650.7 L859.6,651.8 L857.3,652.9 L855.1,654.0 L852.8,655.1 L850.6,656.2 L848.3,657.4 L846.1,658.5 L843.9,659.7 L841.6,660.8 L839.4,661.9 L837.2,663.1 L835.0,664.2 L832.7,665.3 L830.5,666.4 L828.2,667.5 L826.0,668.6 L823.7,669.7 L821.5,670.7 L819.2,671.7 L816.9,672.7 L814.6,673.6 L812.3,674.6 L810.0,675.5 L807.6,676.3 L805.3,677.1 L802.9,677.9 L800.5,678.6 L798.1,679.3 L795.7,680.0 L793.2,680.6 L790.8,681.2 L788.3,681.7 L785.9,682.3 L783.4,682.8 L780.9,683.3 L778.4,683.8 L775.9,684.3 L773.4,684.8 L771.0,685.4 L768.5,685.9 L766.0,686.4 L763.5,687.0 L761.0,687.6 L758.6,688.2 L756.1,688.8 L753.7,689.5 L751.3,690.2 L748.9,690.9 L746.5,691.7 L744.1,692.3 L741.8,692.9 L739.4,693.4 L737.1,693.7 L734.8,693.8 L732.5,693.6 L730.2,693.3 L727.8,692.9 L725.5,692.6 L723.2,692.4 L720.8,692.3 L718.4,692.4 L715.9,692.5 L713.5,692.6 L711.0,692.7 L708.5,692.8 L706.0,692.9 L703.4,693.1 L700.9,693.2 L698.4,693.3 L695.9,693.4 L693.4,693.5 L690.9,693.5 L688.4,693.6 L685.8,693.6 L683.3,693.7 L680.8,693.7 L678.3,693.7 L675.8,693.7 L673.3,693.7 L670.8,693.8 L668.2,693.7 L665.7,693.7 L663.2,693.7 L660.7,693.7 L658.2,693.7 L655.7,693.7 L653.2,693.6 L650.7,693.6 L648.2,693.6 L645.7,693.5 L643.1,693.5 L640.6,693.5 L638.1,693.4 L635.6,693.4 L633.1,693.3 L630.6,693.3 L628.1,693.3 L625.6,693.3 L623.1,693.2 L620.6,693.2 L618.1,693.2 L615.6,693.2 L613.0,693.1 L610.5,693.1 L608.0,693.1 L605.5,693.1 L603.0,693.2 L600.5,693.2 L598.0,693.2 L595.5,693.2 L593.0,693.3 L590.5,693.3 L587.9,693.3 L585.4,693.4 L582.9,693.5 L580.4,693.5 L577.9,693.6 L575.4,693.7 L572.9,693.7 L570.4,693.8 L567.9,693.9 L565.4,694.0 L562.9,694.1 L560.4,694.2 L557.8,694.3 L555.3,694.4 L552.8,694.6 L550.3,694.7 L547.8,694.8 L545.3,695.0 L542.8,695.1 L540.3,695.2 L537.8,695.4 L535.3,695.5 L532.8,695.7 L530.3,695.8 L527.8,695.9 L525.3,696.1 L522.8,696.2 L520.3,696.4 L517.8,696.5 L515.3,696.7 L512.8,696.8 L510.3,697.0 L507.8,697.1 L505.3,697.3 L502.8,697.4 L500.3,697.5 L497.7,697.7 L495.2,697.8 L492.7,697.9 L490.2,698.1 L487.7,698.2 L485.2,698.3 L482.7,698.4 L480.2,698.5 L477.7,698.6 L475.2,698.7 L472.7,698.8 L470.2,698.9 L467.7,698.9 L465.2,699.0 L462.7,699.1 L460.2,699.1 L457.6,699.2 L455.1,699.2 L452.6,699.2 L450.1,699.2 L447.6,699.3 L445.1,699.2 L442.6,699.2 L440.1,699.2 L437.5,699.2 L435.0,699.1 L432.5,699.1 L430.0,699.0" stroke="#00B0F0" stroke-width="6.7" fill="none" stroke-linecap="round" stroke-linejoin="round"/>
<path d="M430.0,684.5 L432.5,684.4 L435.0,684.3 L437.5,684.2 L440.0,684.0 L442.5,683.9 L444.9,683.7 L447.4,683.4 L449.9,683.2 L452.4,682.9 L454.9,682.6 L457.3,682.3 L459.8,681.9 L462.3,681.6 L464.8,681.2 L467.2,680.8 L469.7,680.4 L472.2,680.0 L474.7,679.6 L477.1,679.2 L479.6,678.8 L482.1,678.3 L484.5,677.9 L487.0,677.4 L489.5,677.0 L491.9,676.6 L494.4,676.1 L496.9,675.7 L499.3,675.2 L501.8,674.8 L504.3,674.4 L506.7,674.0 L509.2,673.6 L511.7,673.2 L514.1,672.8 L516.6,672.4 L519.1,672.1 L521.6,671.7 L524.0,671.4 L526.5,671.1 L529.0,670.8 L531.5,670.5 L533.9,670.2 L536.4,669.9 L538.9,669.7 L541.4,669.4 L543.9,669.2 L546.3,668.9 L548.8,668.7 L551.3,668.5 L553.8,668.2 L556.3,668.0 L558.8,667.8 L561.3,667.6 L563.7,667.4 L566.2,667.2 L568.7,667.0 L571.2,666.8 L573.7,666.6 L576.2,666.4 L578.7,666.2 L581.2,666.0 L583.7,665.8 L586.2,665.6 L588.7,665.4 L591.2,665.2 L593.7,664.9 L596.2,664.7 L598.7,664.5 L601.2,664.3 L603.7,664.0 L606.2,663.8 L608.7,663.5 L611.2,663.3 L613.7,663.0 L616.2,662.7 L618.7,662.5 L621.2,662.2 L623.7,661.9 L626.2,661.6 L628.7,661.2 L631.1,660.9 L633.6,660.6 L636.1,660.2 L638.6,659.9 L641.1,659.5 L643.5,659.1 L646.0,658.7 L648.5,658.3 L650.9,657.8 L653.4,657.4 L655.9,656.9 L658.3,656.4 L660.8,655.9 L663.2,655.4 L665.6,654.9 L668.1,654.3 L670.5,653.7 L672.9,653.2 L675.3,652.5 L677.8,651.9 L680.2,651.3 L682.6,650.6 L685.0,649.9 L687.4,649.2 L689.8,648.5 L692.1,647.7 L694.5,646.9 L696.9,646.1 L699.3,645.3 L701.6,644.4 L704.0,643.5 L706.3,642.6 L708.6,641.7 L711.0,640.8 L713.3,639.8 L715.6,638.8 L717.9,637.8 L720.2,636.8 L722.5,635.7 L724.7,634.7 L727.0,633.6 L729.3,632.5 L731.5,631.4 L733.8,630.2 L736.0,629.1 L738.2,627.9 L740.4,626.7 L742.6,625.5 L744.8,624.3 L747.0,623.1 L749.1,621.8 L751.3,620.5 L753.4,619.3 L755.5,617.9 L757.6,616.6 L759.7,615.2 L761.7,613.8 L763.7,612.3 L765.6,610.8 L767.5,609.2 L769.4,607.6 L771.2,605.9 L772.9,604.1 L774.6,602.3 L776.2,600.4 L777.9,598.5 L779.4,596.6 L780.9,594.6 L782.4,592.6 L783.9,590.6 L785.4,588.5 L786.8,586.4 L788.2,584.3 L789.6,582.2 L791.0,580.1 L792.4,578.0 L793.7,575.9 L795.1,573.8 L796.5,571.7 L797.8,569.5 L799.2,567.4 L800.5,565.3 L801.9,563.2 L803.2,561.0 L804.5,558.9 L805.8,556.8 L807.2,554.6 L808.5,552.5 L809.8,550.3 L811.1,548.2 L812.4,546.0 L813.7,543.9 L814.9,541.7 L816.2,539.6 L817.5,537.4 L818.8,535.3 L820.0,533.1 L821.3,530.9 L822.5,528.7 L823.7,526.6 L825.0,524.4 L826.2,522.2 L827.4,520.0 L828.6,517.8 L829.8,515.6 L831.0,513.4 L832.2,511.2 L833.3,509.0 L834.5,506.8 L835.7,504.6 L836.8,502.4 L838.0,500.2 L839.1,497.9 L840.2,495.7 L841.3,493.5 L842.4,491.2 L843.5,489.0 L844.6,486.7 L845.7,484.5 L846.8,482.2 L847.8,479.9 L848.9,477.7 L849.9,475.4 L851.0,473.1 L852.0,470.8 L853.0,468.5 L854.0,466.2 L855.0,463.9 L856.0,461.6 L857.0,459.3 L857.9,457.0 L858.9,454.7 L859.9,452.3 L860.8,450.0 L861.8,447.7 L862.7,445.4 L863.7,443.1 L864.7,440.7 L865.6,438.4 L866.6,436.1 L867.5,433.8 L868.5,431.4 L869.5,429.1 L870.5,426.8 L871.4,424.5 L872.4,422.2 L873.4,419.9 L874.5,417.6 L875.5,415.3 L876.5,413.0 L877.6,410.8 L878.6,408.5 L879.7,406.2 L880.8,403.9 L881.9,401.7 L882.9,399.4 L884.0,397.2 L885.1,394.9 L886.2,392.7 L887.3,390.4 L888.4,388.1 L889.5,385.9 L890.5,383.6 L891.6,381.4 L892.7,379.1 L893.7,376.8 L894.8,374.6 L895.8,372.3 L896.9,370.0 L897.9,367.7 L898.9,365.4 L899.9,363.1 L900.9,360.9 L902.0,358.6 L903.0,356.3 L904.0,354.0 L905.0,351.7 L906.0,349.4 L907.0,347.1 L908.0,344.8 L909.1,342.5 L910.1,340.2 L911.1,337.9 L912.2,335.7 L913.2,333.4 L914.3,331.1 L915.3,328.8 L916.4,326.6 L917.5,324.3 L918.6,322.1 L919.7,319.8 L920.8,317.6 L921.9,315.3 L923.1,313.1 L924.3,310.9 L925.4,308.6 L926.6,306.4 L927.8,304.2 L929.1,302.0 L930.3,299.9 L931.6,297.7 L932.9,295.6 L934.3,293.4 L935.6,291.3 L937.0,289.2 L938.4,287.2 L939.8,285.1 L941.3,283.1 L942.8,281.1 L944.3,279.1 L945.8,277.1 L947.4,275.2 L949.1,273.3 L950.7,271.5 L952.4,269.6 L954.1,267.8 L955.9,266.0 L957.7,264.3 L959.5,262.6 L961.4,260.9 L963.4,259.3 L965.3,257.7 L967.3,256.2 L969.4,254.7 L971.4,253.3 L973.5,251.9 L975.7,250.5 L977.8,249.2 L980.0,248.0 L982.3,246.8 L984.5,245.7 L986.8,244.6 L989.1,243.6 L991.4,242.7 L993.7,241.8 L996.1,241.0 L998.5,240.3 L1000.9,239.6 L1003.3,239.1 L1005.7,238.6 L1008.1,238.2 L1010.5,237.8 L1013.0,237.6 L1015.4,237.4 L1017.9,237.3 L1020.4,237.3 L1022.8,237.4 L1025.3,237.5 L1027.8,237.7 L1030.3,238.0 L1032.8,238.3 L1035.3,238.7 L1037.7,239.1 L1040.2,239.5 L1042.7,240.0 L1045.2,240.5 L1047.7,241.0 L1050.2,241.6 L1052.7,242.2 L1055.2,242.8 L1057.7,243.4 L1060.2,244.0 L1062.7,244.6 L1065.2,245.1 L1067.6,245.7 L1070.1,246.3 L1072.6,246.8 L1075.0,247.3 L1077.5,247.8 L1080.0,248.2 L1082.4,248.6 L1084.9,249.0 L1087.3,249.2 L1089.7,249.4 L1092.2,249.6 L1094.6,249.6 L1097.0,249.6 L1099.5,249.5 L1101.9,249.2 L1104.3,248.9 L1106.7,248.5 L1109.1,248.0 L1111.6,247.4 L1114.0,246.7 L1116.4,246.1 L1118.8,245.3 L1121.3,244.6 L1123.7,243.8 L1126.2,243.1 L1128.6,242.3 L1131.0,241.6 L1133.5,240.8 L1135.9,240.1 L1138.4,239.3 L1140.8,238.5 L1143.2,237.7 L1145.6,236.8 L1148.0,236.0 L1150.3,235.1 L1152.7,234.1 L1155.0,233.2 L1157.3,232.2 L1159.5,231.1 L1161.7,230.0 L1163.9,228.9 L1166.1,227.7 L1168.2,226.4 L1170.3,225.1 L1172.4,223.8 L1174.4,222.5 L1176.5,221.1 L1178.5,219.7 L1180.5,218.3 L1182.5,216.9 L1184.5,215.4 L1186.5,213.9 L1188.5,212.4 L1190.5,210.9 L1192.5,209.4 L1194.5,207.9 L1196.5,206.4 L1198.5,204.9 L1200.5,203.4 L1202.5,201.9 L1204.6,200.4 L1206.6,198.9 L1208.7,197.4 L1210.7,195.9 L1212.8,194.4 L1214.8,192.9 L1216.8,191.3 L1218.9,189.8 L1220.9,188.3 L1222.9,186.7 L1224.8,185.1 L1226.8,183.5 L1228.7,181.9 L1230.6,180.3 L1232.5,178.6 L1234.3,176.9 L1236.1,175.2 L1237.8,173.4 L1239.6,171.6 L1241.2,169.8 L1242.8,167.9 L1244.4,166.0 L1245.9,164.0 L1247.3,162.0 L1248.7,160.0 L1250.1,157.9 L1251.3,155.7 L1252.5,153.5" stroke="#FF0000" stroke-width="6.7" fill="none" stroke-linecap="round" stroke-linejoin="round"/>
<path d="M1252.5,153.5 L1251.7,155.9 L1251.0,158.2 L1250.3,160.6 L1249.6,163.0 L1248.9,165.4 L1248.2,167.8 L1247.6,170.3 L1247.0,172.7 L1246.3,175.1 L1245.7,177.6 L1245.1,180.0 L1244.5,182.5 L1243.9,184.9 L1243.3,187.4 L1242.6,189.9 L1242.0,192.3 L1241.3,194.7 L1240.7,197.2 L1240.0,199.6 L1239.2,202.0 L1238.5,204.4 L1237.7,206.8 L1237.0,209.2 L1236.1,211.6 L1235.3,213.9 L1234.4,216.3 L1233.4,218.6 L1232.5,220.9 L1231.5,223.2 L1230.5,225.5 L1229.5,227.8 L1228.4,230.0 L1227.3,232.3 L1226.2,234.5 L1225.1,236.7 L1224.0,239.0 L1222.8,241.2 L1221.6,243.4 L1220.5,245.6 L1219.3,247.8 L1218.1,250.0 L1216.9,252.2 L1215.7,254.4 L1214.4,256.6 L1213.2,258.8 L1212.0,261.0 L1210.8,263.2 L1209.6,265.4 L1208.4,267.6 L1207.2,269.8 L1206.0,272.1 L1204.8,274.3 L1203.6,276.5 L1202.5,278.7 L1201.3,281.0 L1200.2,283.2 L1199.0,285.5 L1197.9,287.7 L1196.8,290.0 L1195.7,292.2 L1194.6,294.5 L1193.5,296.8 L1192.4,299.0 L1191.2,301.3 L1190.1,303.6 L1189.0,305.8 L1187.9,308.1 L1186.8,310.3 L1185.7,312.6 L1184.6,314.8 L1183.5,317.1 L1182.3,319.3 L1181.2,321.6 L1180.0,323.8 L1178.9,326.0 L1177.7,328.2 L1176.5,330.4 L1175.3,332.6 L1174.1,334.8 L1172.9,337.0 L1171.7,339.2 L1170.4,341.3 L1169.1,343.5 L1167.8,345.6 L1166.5,347.7 L1165.2,349.8 L1163.8,351.9 L1162.5,354.0 L1161.1,356.1 L1159.6,358.1 L1158.2,360.1 L1156.7,362.1 L1155.2,364.1 L1153.6,366.0 L1152.1,368.0 L1150.5,369.9 L1148.8,371.7 L1147.1,373.6 L1145.4,375.4 L1143.7,377.2 L1142.1,379.1 L1140.4,380.9 L1138.8,382.9 L1137.3,384.8 L1135.8,386.8 L1134.3,388.8 L1132.8,390.8 L1131.3,392.8 L1129.9,394.9 L1128.4,396.9 L1127.0,399.0 L1125.5,401.0 L1124.0,403.0 L1122.5,405.0 L1121.0,407.0 L1119.4,409.0 L1117.9,410.9 L1116.3,412.9 L1114.7,414.8 L1113.1,416.7 L1111.4,418.6 L1109.8,420.5 L1108.1,422.3 L1106.5,424.2 L1104.8,426.1 L1103.1,427.9 L1101.4,429.7 L1099.6,431.5 L1097.9,433.4 L1096.2,435.2 L1094.4,437.0 L1092.7,438.8 L1090.9,440.5 L1089.1,442.3 L1087.3,444.1 L1085.6,445.9 L1083.8,447.6 L1082.0,449.4 L1080.2,451.1 L1078.4,452.9 L1076.6,454.6 L1074.8,456.4 L1073.0,458.1 L1071.2,459.9 L1069.4,461.6 L1067.6,463.4 L1065.8,465.1 L1064.0,466.9 L1062.2,468.6 L1060.4,470.3 L1058.6,472.1 L1056.8,473.8 L1055.0,475.5 L1053.2,477.3 L1051.4,479.0 L1049.5,480.7 L1047.7,482.4 L1045.9,484.1 L1044.1,485.8 L1042.2,487.5 L1040.4,489.2 L1038.5,490.8 L1036.6,492.5 L1034.7,494.1 L1032.9,495.8 L1030.9,497.4 L1029.0,499.0 L1027.1,500.6 L1025.2,502.2 L1023.2,503.8 L1021.3,505.3 L1019.3,506.9 L1017.3,508.4 L1015.3,509.9 L1013.3,511.4 L1011.3,512.9 L1009.2,514.4 L1007.2,515.9 L1005.2,517.4 L1003.2,518.9 L1001.1,520.4 L999.1,521.9 L997.1,523.3 L995.0,524.8 L993.0,526.3 L991.0,527.8 L989.0,529.4 L987.0,530.9 L985.0,532.4 L983.0,534.0 L981.0,535.5 L979.1,537.1 L977.2,538.7 L975.2,540.3 L973.3,541.9 L971.5,543.6 L969.6,545.3 L967.8,547.0 L965.9,548.7 L964.1,550.4 L962.3,552.1 L960.5,553.8 L958.6,555.5 L956.8,557.2 L954.9,558.8 L953.0,560.5 L951.0,562.0 L949.0,563.5 L947.0,565.0 L944.9,566.4 L942.8,567.8 L940.7,569.1 L938.6,570.5 L936.6,572.0 L934.5,573.5 L932.6,575.0 L930.6,576.6 L928.7,578.2 L926.8,579.8 L925.0,581.4 L923.1,583.1 L921.3,584.8 L919.4,586.5 L917.6,588.2 L915.8,589.9 L914.0,591.7 L912.2,593.4 L910.3,595.1 L908.5,596.8 L906.7,598.5 L904.8,600.2 L903.0,601.9 L901.1,603.5 L899.2,605.2 L897.4,606.9 L895.5,608.5 L893.6,610.2 L891.7,611.8 L889.8,613.5 L887.9,615.1 L886.0,616.7 L884.0,618.3 L882.1,619.9 L880.1,621.4 L878.2,623.0 L876.2,624.5 L874.2,626.1 L872.2,627.6 L870.2,629.1 L868.2,630.6 L866.2,632.1 L864.1,633.5 L862.1,634.9 L860.0,636.4 L857.9,637.8 L855.8,639.1 L853.7,640.5 L851.6,641.8 L849.4,643.2 L847.3,644.5 L845.1,645.7 L842.9,647.0 L840.7,648.2 L838.5,649.5 L836.3,650.6 L834.1,651.8 L831.9,653.0 L829.6,654.1 L827.4,655.2 L825.1,656.2 L822.8,657.3 L820.5,658.3 L818.2,659.3 L815.9,660.3 L813.6,661.2 L811.2,662.1 L808.9,663.0 L806.5,663.8 L804.2,664.7 L801.8,665.5 L799.4,666.2 L797.0,667.0 L794.6,667.7 L792.2,668.4 L789.8,669.0 L787.4,669.7 L785.0,670.3 L782.5,671.0 L780.1,671.6 L777.7,672.2 L775.2,672.8 L772.8,673.5 L770.4,674.1 L768.0,674.8 L765.5,675.4 L763.1,676.1 L760.7,676.8 L758.3,677.6 L755.9,678.3 L753.5,679.1 L751.2,679.9 L748.8,680.8 L746.5,681.7 L744.1,682.6 L741.8,683.6 L739.5,684.6 L737.2,685.7 L734.9,686.7 L732.6,687.7 L730.3,688.6 L728.0,689.5 L725.6,690.4 L723.3,691.1 L720.9,691.8 L718.5,692.3 L716.1,692.7 L713.6,693.0 L711.1,693.2 L708.6,693.3 L706.1,693.5 L703.6,693.6 L701.1,693.6 L698.6,693.7 L696.1,693.7 L693.6,693.8 L691.1,693.8 L688.6,693.8 L686.1,693.8 L683.6,693.8 L681.1,693.8 L678.5,693.8 L676.0,693.8 L673.5,693.8 L671.0,693.7 L668.5,693.7 L666.0,693.7 L663.4,693.7 L660.9,693.7 L658.4,693.7 L655.9,693.7 L653.4,693.6 L650.9,693.6 L648.4,693.6 L645.8,693.6 L643.3,693.6 L640.8,693.6 L638.3,693.5 L635.8,693.5 L633.3,693.5 L630.8,693.5 L628.2,693.5 L625.7,693.5 L623.2,693.4 L620.7,693.4 L618.2,693.4 L615.7,693.4 L613.2,693.4 L610.7,693.4 L608.1,693.4 L605.6,693.4 L603.1,693.3 L600.6,693.3 L598.1,693.3 L595.6,693.3 L593.1,693.3 L590.6,693.3 L588.0,693.3 L585.5,693.3 L583.0,693.3 L580.5,693.3 L578.0,693.3 L575.5,693.3 L573.0,693.3 L570.5,693.3 L568.0,693.3 L565.4,693.3 L562.9,693.3 L560.4,693.3 L557.9,693.4 L555.4,693.4 L552.9,693.4 L550.4,693.4 L547.9,693.4 L545.4,693.5 L542.8,693.5 L540.3,693.5 L537.8,693.6 L535.3,693.6 L532.8,693.6 L530.3,693.7 L527.8,693.7 L525.3,693.8 L522.8,693.8 L520.3,693.9 L517.8,693.9 L515.2,694.0 L512.7,694.1 L510.2,694.1 L507.7,694.2 L505.2,694.3 L502.7,694.4 L500.2,694.4 L497.7,694.5 L495.2,694.6 L492.7,694.7 L490.2,694.8 L487.6,694.9 L485.1,695.0 L482.6,695.1 L480.1,695.2 L477.6,695.4 L475.1,695.5 L472.6,695.6 L470.1,695.7 L467.6,695.9 L465.1,696.0 L462.6,696.2 L460.1,696.3 L457.6,696.5 L455.1,696.6 L452.6,696.8 L450.0,697.0 L447.5,697.1 L445.0,697.3 L442.5,697.5 L440.0,697.7 L437.5,697.9 L435.0,698.1 L432.5,698.3 L430.0,698.5" stroke="#FF0000" stroke-width="6.7" fill="none" stroke-linecap="round" stroke-linejoin="round"/>
<path d="M69.0,693.6 L71.4,692.9 L73.9,692.3 L76.3,691.8 L78.8,691.3 L81.3,691.0 L83.8,690.7 L86.3,690.4 L88.8,690.3 L91.3,690.1 L93.8,690.1 L96.3,690.0 L98.9,689.9 L101.4,689.9 L103.9,689.9 L106.4,689.9 L108.9,689.8 L111.4,689.7 L113.9,689.6 L116.4,689.5 L118.9,689.3 L121.4,689.1 L123.8,688.8 L126.3,688.5 L128.7,688.2 L131.2,687.9 L133.6,687.5 L136.1,687.3 L138.5,687.0 L141.0,686.9 L143.4,686.8 L145.9,686.7 L148.4,686.7 L150.9,686.7 L153.4,686.8 L155.8,686.8 L158.3,686.9 L160.8,686.9 L163.3,687.0 L165.8,687.0 L168.3,687.0 L170.8,687.0 L173.4,686.9 L175.9,686.8 L178.4,686.6 L180.9,686.4 L183.4,686.1 L185.9,685.9 L188.4,685.6 L190.9,685.3 L193.4,685.0 L195.9,684.7 L198.4,684.5 L200.9,684.4 L203.3,684.3 L205.8,684.3 L208.3,684.3 L210.8,684.4 L213.3,684.6 L215.8,684.7 L218.2,685.0 L220.7,685.2 L223.2,685.5 L225.6,685.8 L228.1,686.0 L230.6,686.2 L233.0,686.4 L235.5,686.5 L237.9,686.5 L240.4,686.4 L242.8,686.3 L245.3,686.2 L247.8,686.1 L250.3,685.9 L252.7,685.8 L255.2,685.8 L257.7,685.7 L260.2,685.7 L262.7,685.6 L265.2,685.7 L267.7,685.7 L270.2,685.7 L272.7,685.8 L275.2,685.8 L277.7,685.9 L280.3,686.0 L282.8,686.1 L285.3,686.2 L287.8,686.4 L290.3,686.5 L292.8,686.6 L295.3,686.8 L297.8,686.9 L300.3,687.1 L302.8,687.2 L305.4,687.3 L307.9,687.5 L310.4,687.6 L312.9,687.7 L315.4,687.8 L317.9,687.8 L320.4,687.9 L322.9,687.9 L325.4,688.0 L327.9,688.0 L330.4,688.0 L332.9,687.9 L335.4,687.8 L337.9,687.7 L340.4,687.6 L342.9,687.4 L345.4,687.2 L347.9,687.0 L350.4,686.7 L352.9,686.5 L355.4,686.2 L357.9,685.9 L360.4,685.6 L362.9,685.3 L365.4,685.1 L367.9,684.9 L370.4,684.7 L372.9,684.5 L375.4,684.4 L377.9,684.3 L380.4,684.3 L382.9,684.4 L385.4,684.4 L388.0,684.5 L390.5,684.6 L393.0,684.7 L395.5,684.7 L398.0,684.8 L400.5,684.8 L403.0,684.9 L405.5,684.8 L408.0,684.7 L410.4,684.6 L412.9,684.4 L415.4,684.1 L417.8,683.8 L420.3,683.4 L422.7,683.0 L425.2,682.5 L427.7,682.1 L430.1,681.7 L432.6,681.4 L435.1,681.1 L437.6,680.8 L440.0,680.5 L442.5,680.3 L445.0,680.1 L447.5,680.0 L450.0,679.8 L452.5,679.7 L455.1,679.5 L457.6,679.4 L460.1,679.2 L462.6,679.1 L465.1,678.9 L467.6,678.8 L470.1,678.6 L472.6,678.4 L475.1,678.1 L477.6,677.9 L480.1,677.6 L482.6,677.3 L485.0,677.0 L487.5,676.7 L490.0,676.3 L492.5,676.0 L495.0,675.7 L497.5,675.3 L499.9,675.0 L502.4,674.6 L504.9,674.3 L507.4,673.9 L509.9,673.5 L512.3,673.2 L514.8,672.9 L517.3,672.5 L519.8,672.2 L522.3,671.9 L524.8,671.6 L527.2,671.3 L529.7,671.0 L532.2,670.7 L534.7,670.4 L537.2,670.1 L539.6,669.8 L542.1,669.5 L544.6,669.1 L547.0,668.8 L549.5,668.5 L552.0,668.2 L554.4,667.9 L556.9,667.6 L559.4,667.4 L561.9,667.2 L564.3,667.1 L566.8,666.9 L569.3,666.8 L571.8,666.7 L574.3,666.5 L576.8,666.4 L579.3,666.2 L581.8,666.0 L584.2,665.8 L586.7,665.6 L589.2,665.4 L591.7,665.1 L594.2,664.8 L596.7,664.6 L599.2,664.3 L601.7,664.1 L604.2,663.8 L606.7,663.6 L609.2,663.3 L611.7,663.1 L614.2,662.9 L616.7,662.6 L619.2,662.4 L621.7,662.1 L624.2,661.9 L626.6,661.6 L629.1,661.3 L631.6,661.0 L634.1,660.7 L636.6,660.4 L639.1,660.0 L641.5,659.6 L644.0,659.2 L646.5,658.8 L648.9,658.3 L651.4,657.9 L653.8,657.3 L656.3,656.8 L658.7,656.2 L661.2,655.7 L663.6,655.1 L666.1,654.5 L668.5,654.0 L671.0,653.4 L673.4,652.8 L675.8,652.2 L678.3,651.7 L680.7,651.1 L683.1,650.4 L685.5,649.8 L687.9,649.1 L690.3,648.5 L692.7,647.8 L695.1,647.0 L697.5,646.3 L699.8,645.5 L702.2,644.7 L704.6,643.8 L706.9,642.9 L709.2,642.0 L711.5,641.0 L713.9,640.0 L716.2,639.0 L718.4,637.9 L720.7,636.8 L723.0,635.7 L725.2,634.6 L727.5,633.5 L729.7,632.3 L731.9,631.1 L734.1,629.9 L736.3,628.7 L738.5,627.5 L740.6,626.3 L742.8,625.0 L744.8,623.6 L746.9,622.3 L748.8,620.8 L750.8,619.3 L752.6,617.7 L754.4,616.0 L756.1,614.2 L757.8,612.4 L759.5,610.6 L761.1,608.7 L762.8,606.8 L764.4,604.8 L765.9,602.9 L767.5,600.9 L769.0,598.9 L770.5,596.8 L771.9,594.8 L773.4,592.7 L774.8,590.6 L776.2,588.5 L777.6,586.4 L778.9,584.2 L780.3,582.1 L781.6,579.9 L782.9,577.8 L784.2,575.6 L785.4,573.4 L786.6,571.2 L787.9,569.1 L789.1,566.9 L790.3,564.7 L791.4,562.5 L792.6,560.3 L793.8,558.1 L794.9,555.9 L796.1,553.7 L797.2,551.4 L798.4,549.2 L799.5,547.0 L800.7,544.8 L801.8,542.6 L803.0,540.4 L804.2,538.2 L805.3,535.9 L806.5,533.7 L807.7,531.5 L808.9,529.3 L810.0,527.1 L811.2,524.8 L812.4,522.6 L813.6,520.4 L814.7,518.2 L815.9,515.9 L817.0,513.7 L818.1,511.5 L819.3,509.2 L820.3,507.0 L821.4,504.7 L822.5,502.5 L823.5,500.2 L824.5,497.9 L825.5,495.6 L826.5,493.3 L827.4,491.0 L828.3,488.7 L829.3,486.3 L830.2,484.0 L831.1,481.7 L832.0,479.3 L832.9,477.0 L833.8,474.6 L834.7,472.3 L835.6,470.0 L836.5,467.6 L837.4,465.3 L838.3,462.9 L839.3,460.6 L840.2,458.3 L841.1,456.0 L842.1,453.6 L843.0,451.3 L844.0,449.0 L844.9,446.7 L845.8,444.3 L846.8,442.0 L847.7,439.7 L848.7,437.4 L849.6,435.0 L850.5,432.7 L851.5,430.4 L852.4,428.1 L853.3,425.7 L854.2,423.4 L855.1,421.0 L856.0,418.7 L856.9,416.4 L857.7,414.0 L858.6,411.7 L859.4,409.3 L860.3,406.9 L861.1,404.6 L861.9,402.2 L862.7,399.8 L863.6,397.5 L864.4,395.1 L865.2,392.7 L866.0,390.4 L866.8,388.0 L867.6,385.6 L868.5,383.3 L869.3,380.9 L870.1,378.5 L871.0,376.2 L871.8,373.8 L872.7,371.5 L873.6,369.1 L874.4,366.8 L875.3,364.4 L876.3,362.1 L877.2,359.8 L878.1,357.5 L879.1,355.1 L880.1,352.8 L881.0,350.5 L882.0,348.2 L883.0,345.9 L884.0,343.6 L885.0,341.3 L885.9,339.0 L886.9,336.7 L887.8,334.3 L888.8,332.0 L889.7,329.7 L890.6,327.3 L891.4,325.0 L892.3,322.6 L893.1,320.2 L893.8,317.9 L894.6,315.5 L895.3,313.1 L896.0,310.7 L896.8,308.3 L897.5,305.9 L898.2,303.5 L899.0,301.1 L899.8,298.7 L900.6,296.4 L901.4,294.0 L902.3,291.7 L903.3,289.4 L904.3,287.1 L905.3,284.8 L906.4,282.6 L907.5,280.4 L908.7,278.1 L909.9,275.9 L911.1,273.7 L912.3,271.5 L913.5,269.3 L914.6,267.1 L915.8,264.9 L916.9,262.6 L918.0,260.4 L919.0,258.1 L920.0,255.8 L921.0,253.5 L922.0,251.2 L923.0,248.9 L924.0,246.6 L925.0,244.4 L926.0,242.1 L927.1,239.8 L928.1,237.6 L929.2,235.3 L930.3,233.1 L931.4,230.8 L932.5,228.5 L933.5,226.3 L934.5,224.0 L935.5,221.7 L936.5,219.4 L937.5,217.0 L938.4,214.7 L939.4,212.4 L940.4,210.1 L941.4,207.8 L942.4,205.5 L943.5,203.3 L944.7,201.1 L945.9,198.9 L947.2,196.8 L948.5,194.7 L950.0,192.7 L951.5,190.7 L953.0,188.8 L954.6,186.9 L956.2,185.0 L957.9,183.2 L959.6,181.3 L961.3,179.5 L963.0,177.6 L964.8,175.8 L966.5,174.0 L968.2,172.1 L969.9,170.2 L971.6,168.3 L973.3,166.5 L975.0,164.6 L976.8,162.8 L978.5,161.0 L980.3,159.2 L982.1,157.4 L983.9,155.7 L985.8,154.1 L987.7,152.4 L989.6,150.9 L991.6,149.4 L993.6,148.0 L995.7,146.7 L997.9,145.5 L1000.1,144.3 L1002.3,143.2 L1004.6,142.2 L1006.9,141.3 L1009.3,140.4 L1011.6,139.6 L1014.1,138.9 L1016.5,138.3 L1019.0,137.7 L1021.4,137.2 L1023.9,136.8 L1026.4,136.4 L1028.9,136.1 L1031.5,135.8 L1034.0,135.7 L1036.5,135.6 L1039.0,135.5 L1041.5,135.5 L1044.0,135.6 L1046.5,135.8 L1048.9,135.9 L1051.4,136.2 L1053.9,136.4 L1056.3,136.7 L1058.8,137.1 L1061.2,137.4 L1063.7,137.8 L1066.2,138.2 L1068.6,138.6 L1071.1,139.1 L1073.6,139.5 L1076.1,139.9 L1078.6,140.3 L1081.1,140.7 L1083.7,141.1 L1086.2,141.5 L1088.7,141.8 L1091.2,142.1 L1093.7,142.3 L1096.2,142.4 L1098.7,142.5 L1101.2,142.6 L1103.7,142.5 L1106.2,142.4 L1108.6,142.1 L1111.1,141.9 L1113.5,141.5 L1116.0,141.1 L1118.4,140.6 L1120.8,140.1 L1123.3,139.6 L1125.7,139.0 L1128.1,138.4 L1130.6,137.8 L1133.0,137.2 L1135.4,136.6 L1137.9,135.9 L1140.3,135.3 L1142.8,134.7 L1145.2,134.1 L1147.7,133.4 L1150.1,132.8 L1152.6,132.1 L1155.0,131.4 L1157.4,130.7 L1159.8,129.9 L1162.2,129.1 L1164.5,128.3 L1166.9,127.4 L1169.2,126.5 L1171.5,125.6 L1173.8,124.6 L1176.1,123.6 L1178.3,122.5 L1180.6,121.4 L1182.8,120.3 L1184.9,119.1 L1187.1,117.9 L1189.2,116.6 L1191.4,115.3 L1193.4,114.0 L1195.5,112.6 L1197.5,111.2 L1199.6,109.7 L1201.5,108.2 L1203.5,106.7 L1205.4,105.1 L1207.4,103.5 L1209.3,101.8 L1211.2,100.2 L1213.1,98.6 L1215.1,97.0 L1217.0,95.4 L1219.1,93.9 L1221.1,92.5 L1223.2,91.0 L1225.3,89.7 L1227.4,88.3 L1229.6,86.9 L1231.7,85.5 L1233.8,84.2 L1235.8,82.7 L1237.9,81.3 L1239.8,79.7 L1241.7,78.2 L1243.5,76.5 L1245.2,74.7 L1246.8,72.9 L1248.2,70.9 L1249.5,68.8 L1250.6,66.5 L1251.6,64.1 L1252.3,61.5" stroke="#000000" stroke-width="7.5" fill="none" stroke-linecap="round" stroke-linejoin="round"/>
<path d="M1252.3,61.5 L1252.0,64.0 L1251.7,66.5 L1251.4,69.0 L1251.0,71.5 L1250.6,74.0 L1250.2,76.5 L1249.7,79.0 L1249.3,81.4 L1248.7,83.9 L1248.2,86.3 L1247.7,88.7 L1247.1,91.2 L1246.5,93.6 L1245.9,96.0 L1245.2,98.4 L1244.6,100.8 L1243.9,103.2 L1243.2,105.6 L1242.4,108.0 L1241.7,110.4 L1240.9,112.8 L1240.1,115.1 L1239.3,117.5 L1238.5,119.8 L1237.7,122.2 L1236.8,124.6 L1236.0,126.9 L1235.1,129.2 L1234.2,131.6 L1233.3,133.9 L1232.4,136.2 L1231.5,138.6 L1230.5,140.9 L1229.6,143.2 L1228.6,145.5 L1227.7,147.8 L1226.7,150.1 L1225.7,152.4 L1224.7,154.7 L1223.7,157.0 L1222.7,159.3 L1221.7,161.6 L1220.7,163.9 L1219.7,166.2 L1218.7,168.5 L1217.6,170.8 L1216.6,173.1 L1215.6,175.4 L1214.5,177.7 L1213.5,180.0 L1212.5,182.3 L1211.5,184.6 L1210.4,186.9 L1209.4,189.2 L1208.4,191.5 L1207.4,193.8 L1206.3,196.0 L1205.3,198.3 L1204.3,200.6 L1203.3,202.9 L1202.3,205.2 L1201.3,207.5 L1200.3,209.8 L1199.4,212.2 L1198.4,214.5 L1197.4,216.8 L1196.4,219.1 L1195.5,221.4 L1194.5,223.7 L1193.5,226.0 L1192.6,228.3 L1191.6,230.6 L1190.6,232.9 L1189.7,235.2 L1188.7,237.5 L1187.7,239.8 L1186.7,242.1 L1185.8,244.4 L1184.8,246.7 L1183.8,249.0 L1182.8,251.3 L1181.8,253.5 L1180.7,255.8 L1179.7,258.1 L1178.7,260.4 L1177.6,262.6 L1176.5,264.9 L1175.4,267.1 L1174.4,269.4 L1173.2,271.6 L1172.1,273.8 L1171.0,276.1 L1169.8,278.3 L1168.7,280.5 L1167.5,282.7 L1166.3,284.9 L1165.1,287.1 L1163.8,289.3 L1162.6,291.4 L1161.3,293.6 L1160.0,295.8 L1158.8,297.9 L1157.5,300.1 L1156.1,302.2 L1154.8,304.3 L1153.5,306.5 L1152.1,308.6 L1150.8,310.7 L1149.4,312.8 L1148.0,314.9 L1146.6,316.9 L1145.2,319.0 L1143.8,321.1 L1142.4,323.1 L1141.0,325.2 L1139.5,327.2 L1138.1,329.3 L1136.7,331.3 L1135.2,333.3 L1133.8,335.3 L1132.3,337.4 L1130.9,339.4 L1129.4,341.4 L1128.0,343.4 L1126.6,345.5 L1125.1,347.5 L1123.7,349.6 L1122.3,351.6 L1120.9,353.7 L1119.6,355.8 L1118.2,357.9 L1116.8,359.9 L1115.5,362.0 L1114.1,364.1 L1112.8,366.2 L1111.4,368.3 L1110.1,370.4 L1108.7,372.5 L1107.3,374.6 L1105.9,376.7 L1104.5,378.8 L1103.1,380.8 L1101.6,382.8 L1100.2,384.9 L1098.7,386.9 L1097.2,388.9 L1095.7,390.9 L1094.1,392.8 L1092.6,394.8 L1091.0,396.7 L1089.4,398.7 L1087.8,400.6 L1086.2,402.5 L1084.6,404.4 L1083.0,406.3 L1081.3,408.2 L1079.7,410.1 L1078.0,411.9 L1076.3,413.8 L1074.6,415.6 L1072.9,417.5 L1071.2,419.3 L1069.5,421.1 L1067.7,422.9 L1066.0,424.7 L1064.3,426.5 L1062.5,428.3 L1060.7,430.1 L1059.0,431.9 L1057.2,433.6 L1055.4,435.4 L1053.6,437.1 L1051.8,438.9 L1050.0,440.6 L1048.2,442.4 L1046.4,444.1 L1044.6,445.8 L1042.8,447.6 L1041.0,449.3 L1039.1,451.0 L1037.3,452.7 L1035.5,454.4 L1033.6,456.1 L1031.8,457.8 L1030.0,459.5 L1028.1,461.2 L1026.3,462.9 L1024.4,464.6 L1022.6,466.3 L1020.7,468.0 L1018.9,469.7 L1017.0,471.4 L1015.2,473.1 L1013.3,474.7 L1011.5,476.4 L1009.6,478.1 L1007.8,479.8 L1005.9,481.5 L1004.1,483.2 L1002.3,484.9 L1000.4,486.6 L998.6,488.3 L996.7,490.0 L994.9,491.7 L993.1,493.4 L991.2,495.1 L989.4,496.8 L987.6,498.5 L985.7,500.2 L983.9,501.9 L982.1,503.6 L980.3,505.4 L978.5,507.1 L976.7,508.8 L974.9,510.6 L973.1,512.3 L971.3,514.1 L969.5,515.8 L967.8,517.6 L966.0,519.3 L964.2,521.1 L962.4,522.9 L960.7,524.6 L958.9,526.4 L957.1,528.2 L955.4,529.9 L953.6,531.7 L951.8,533.5 L950.1,535.3 L948.3,537.0 L946.5,538.8 L944.7,540.5 L943.0,542.3 L941.2,544.0 L939.4,545.8 L937.6,547.5 L935.8,549.3 L934.0,551.0 L932.2,552.7 L930.4,554.5 L928.6,556.2 L926.7,557.9 L924.9,559.6 L923.0,561.3 L921.2,562.9 L919.3,564.6 L917.5,566.3 L915.6,567.9 L913.7,569.6 L911.9,571.3 L910.0,572.9 L908.1,574.6 L906.3,576.3 L904.4,578.0 L902.6,579.7 L900.8,581.4 L898.9,583.1 L897.2,584.9 L895.4,586.6 L893.6,588.4 L891.9,590.2 L890.2,592.1 L888.5,593.9 L886.8,595.8 L885.2,597.7 L883.5,599.6 L881.8,601.4 L880.1,603.3 L878.4,605.2 L876.7,607.0 L875.0,608.8 L873.2,610.5 L871.4,612.3 L869.6,614.0 L867.7,615.6 L865.8,617.2 L863.9,618.8 L862.0,620.3 L860.0,621.9 L858.0,623.4 L856.1,624.9 L854.1,626.4 L852.0,627.9 L850.0,629.4 L848.0,630.9 L846.0,632.4 L844.0,633.9 L842.0,635.4 L840.0,637.0 L838.1,638.6 L836.1,640.2 L834.2,641.8 L832.2,643.4 L830.3,645.0 L828.3,646.7 L826.4,648.3 L824.4,649.9 L822.5,651.4 L820.5,653.0 L818.5,654.5 L816.5,655.9 L814.4,657.4 L812.3,658.7 L810.2,660.0 L808.1,661.3 L805.9,662.4 L803.7,663.5 L801.5,664.6 L799.2,665.6 L796.9,666.5 L794.6,667.4 L792.2,668.2 L789.9,669.0 L787.5,669.7 L785.1,670.4 L782.7,671.1 L780.2,671.8 L777.8,672.4 L775.4,673.0 L772.9,673.7 L770.5,674.3 L768.0,674.9 L765.6,675.5 L763.2,676.1 L760.7,676.8 L758.3,677.5 L755.9,678.2 L753.6,679.0 L751.2,679.9 L748.9,680.8 L746.6,681.8 L744.3,682.8 L742.0,683.8 L739.7,684.8 L737.4,685.8 L735.1,686.8 L732.8,687.8 L730.5,688.7 L728.2,689.6 L725.9,690.4 L723.5,691.1 L721.2,691.8 L718.8,692.4 L716.4,692.8 L713.9,693.2 L711.5,693.5 L709.0,693.8 L706.6,694.0 L704.1,694.1 L701.6,694.2 L699.1,694.2 L696.6,694.2 L694.1,694.2 L691.5,694.2 L689.0,694.2 L686.5,694.1 L684.0,694.1 L681.5,694.0 L679.0,694.0 L676.4,693.9 L673.9,693.9 L671.4,693.8 L668.9,693.8 L666.4,693.7 L663.9,693.7 L661.4,693.6 L658.8,693.5 L656.3,693.5 L653.8,693.4 L651.3,693.4 L648.8,693.4 L646.3,693.3 L643.8,693.3 L641.3,693.2 L638.8,693.2 L636.2,693.2 L633.7,693.2 L631.2,693.2 L628.7,693.1 L626.2,693.1 L623.7,693.1 L621.2,693.1 L618.7,693.1 L616.2,693.1 L613.7,693.1 L611.2,693.1 L608.7,693.1 L606.2,693.1 L603.7,693.1 L601.2,693.1 L598.7,693.2 L596.2,693.2 L593.6,693.2 L591.1,693.2 L588.6,693.2 L586.1,693.3 L583.6,693.3 L581.1,693.3 L578.6,693.3 L576.1,693.4 L573.6,693.4 L571.1,693.4 L568.6,693.4 L566.1,693.5 L563.6,693.5 L561.1,693.5 L558.6,693.6 L556.1,693.6 L553.6,693.6 L551.1,693.7 L548.6,693.7 L546.1,693.7 L543.6,693.8 L541.1,693.8 L538.6,693.8 L536.1,693.9 L533.6,693.9 L531.1,693.9 L528.6,693.9 L526.1,694.0 L523.6,694.0 L521.0,694.0 L518.5,694.0 L516.0,694.1 L513.5,694.1 L511.0,694.1 L508.5,694.1 L506.0,694.2 L503.5,694.2 L501.0,694.2 L498.5,694.2 L496.0,694.3 L493.5,694.3 L491.0,694.3 L488.4,694.4 L485.9,694.4 L483.4,694.5 L480.9,694.5 L478.4,694.5 L475.9,694.6 L473.4,694.7 L470.9,694.7 L468.4,694.8 L465.9,694.9 L463.4,695.0 L460.9,695.0 L458.4,695.1 L455.9,695.2 L453.4,695.3 L450.9,695.5 L448.4,695.6 L445.9,695.7 L443.4,695.9 L440.9,696.0 L438.4,696.2 L435.9,696.4 L433.4,696.5 L430.9,696.7 L428.4,696.9 L425.9,697.1 L423.4,697.4 L420.9,697.6 L418.4,697.9 L416.0,698.1 L413.5,698.4 L411.0,698.6 L408.5,698.9 L406.0,699.1 L403.5,699.4 L401.0,699.6 L398.5,699.7 L396.1,699.9 L393.6,700.1 L391.1,700.2 L388.6,700.3 L386.1,700.4 L383.6,700.5 L381.1,700.6 L378.6,700.7 L376.1,700.8 L373.6,700.9 L371.1,700.9 L368.6,701.0 L366.1,701.1 L363.6,701.1 L361.1,701.2 L358.6,701.2 L356.1,701.3 L353.6,701.3 L351.1,701.4 L348.5,701.5 L346.0,701.5 L343.5,701.6 L341.0,701.6 L338.5,701.7 L336.0,701.8 L333.5,701.8 L331.0,701.9 L328.5,701.9 L326.0,702.0 L323.5,702.1 L321.0,702.1 L318.5,702.2 L316.0,702.3 L313.5,702.4 L311.0,702.4 L308.5,702.5 L306.0,702.6 L303.5,702.7 L301.0,702.7 L298.5,702.8 L296.0,702.9 L293.5,703.0 L291.0,703.1 L288.5,703.2 L286.0,703.3 L283.5,703.4 L281.0,703.4 L278.5,703.5 L276.0,703.6 L273.5,703.7 L271.0,703.8 L268.5,704.0 L266.0,704.1 L263.5,704.2 L261.0,704.3 L258.5,704.4 L255.9,704.5 L253.4,704.6 L250.9,704.8 L248.4,704.9 L245.9,705.0 L243.4,705.1 L240.9,705.3 L238.4,705.4 L235.9,705.5 L233.4,705.7 L230.9,705.8 L228.4,706.0 L225.9,706.1 L223.4,706.3 L220.9,706.4 L218.4,706.6 L215.9,706.7 L213.4,706.9 L210.9,707.1 L208.4,707.2 L205.9,707.4 L203.4,707.6 L200.9,707.8 L198.4,707.9 L195.9,708.1 L193.4,708.3 L190.9,708.5 L188.4,708.7 L185.9,708.8 L183.4,709.0 L180.9,709.2 L178.4,709.4 L175.9,709.5 L173.4,709.7 L170.9,709.9 L168.4,710.0 L165.9,710.2 L163.4,710.3 L160.9,710.4 L158.4,710.5 L155.9,710.7 L153.4,710.8 L150.9,710.9 L148.4,711.0 L145.9,711.0 L143.4,711.1 L140.9,711.1 L138.4,711.2 L135.9,711.2 L133.4,711.3 L130.9,711.3 L128.4,711.3 L125.9,711.4 L123.4,711.4 L120.9,711.4 L118.4,711.5 L115.9,711.5 L113.4,711.6 L110.9,711.7 L108.4,711.7 L105.9,711.8 L103.4,711.9 L100.9,712.1 L98.4,712.2 L95.9,712.4 L93.4,712.6 L90.9,712.8 L88.4,713.0 L85.9,713.3 L83.4,713.6 L80.9,713.9 L78.4,714.3 L76.0,714.7 L73.5,715.1 L71.0,715.6" stroke="#000000" stroke-width="7.5" fill="none" stroke-linecap="round" stroke-linejoin="round"/>
</g>
<line x1="212.2" y1="793.5" x2="212.2" y2="804" stroke="#404040" stroke-width="2"/>
<line x1="361.2" y1="793.5" x2="361.2" y2="804" stroke="#404040" stroke-width="2"/>
<line x1="510.2" y1="793.5" x2="510.2" y2="804" stroke="#404040" stroke-width="2"/>
<line x1="659.2" y1="793.5" x2="659.2" y2="804" stroke="#404040" stroke-width="2"/>
<line x1="808.2" y1="793.5" x2="808.2" y2="804" stroke="#404040" stroke-width="2"/>
<line x1="957.2" y1="793.5" x2="957.2" y2="804" stroke="#404040" stroke-width="2"/>
<line x1="1106.2" y1="793.5" x2="1106.2" y2="804" stroke="#404040" stroke-width="2"/>

<g fill="#595959" font-size="32" letter-spacing="0.6">
<text x="63.2" y="862" text-anchor="middle">-200</text>
<text x="212.2" y="862" text-anchor="middle">-100</text>
<text x="361.2" y="862" text-anchor="middle">0</text>
<text x="510.2" y="862" text-anchor="middle">100</text>
<text x="659.2" y="862" text-anchor="middle">200</text>
<text x="808.2" y="862" text-anchor="middle">300</text>
<text x="957.2" y="862" text-anchor="middle">400</text>
<text x="1106.2" y="862" text-anchor="middle">500</text>
<text x="1255.2" y="862" text-anchor="middle">600</text>
</g>
<text x="410" y="930.5" font-size="42.5" fill="#595959" textLength="492" lengthAdjust="spacingAndGlyphs">Potential/V (vs. Ag/AgCl)</text>
<text transform="translate(35,581) rotate(-90)" font-size="42" fill="#595959" textLength="243" lengthAdjust="spacingAndGlyphs">Current (µA)</text>
<text x="493" y="483.5" font-size="50" fill="#000" textLength="148" lengthAdjust="spacingAndGlyphs">0.2 µA</text>
<line x1="659" y1="406.3" x2="659" y2="519" stroke="#000" stroke-width="6" stroke-linecap="round"/>
<g font-size="43" fill="#000" text-anchor="middle">
<text x="1025.5" y="115">(e)</text>
<text x="1010" y="216.5">(d)</text>
<text x="981.5" y="374">(c)</text>
<text x="945" y="499">(b)</text>
<text x="1102" y="663">(a)</text>
</g>
</svg>
</body></html>
